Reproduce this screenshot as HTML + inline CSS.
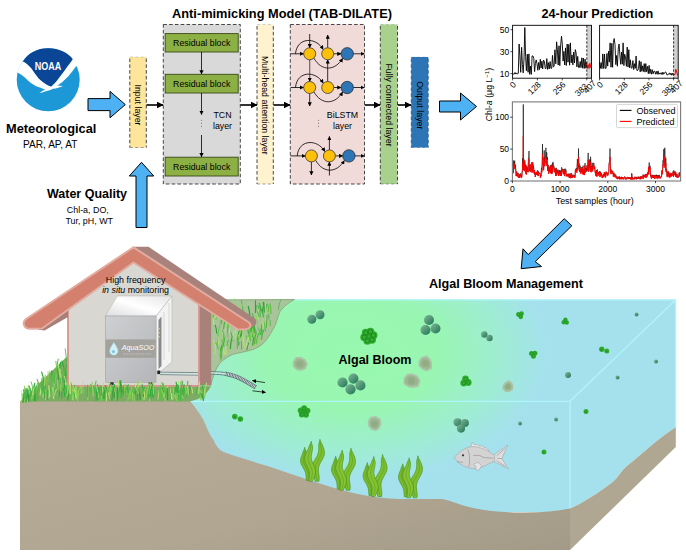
<!DOCTYPE html>
<html><head><meta charset="utf-8"><title>Graphical abstract</title>
<style>html,body{margin:0;padding:0;background:#fff}svg{display:block}text{font-family:'Liberation Sans', sans-serif}</style>
</head><body>
<svg width="686" height="560" viewBox="0 0 686 560" font-family="Liberation Sans, sans-serif">
<rect width="686" height="560" fill="#fff"/>

<defs>
<marker id="ah" viewBox="0 0 10 10" refX="9" refY="5" markerWidth="4.2" markerHeight="4.2" orient="auto-start-reverse" markerUnits="userSpaceOnUse"><path d="M0,0 L10,5 L0,10 z" fill="#000"/></marker>
<marker id="ahb" viewBox="0 0 10 10" refX="9" refY="5" markerWidth="7" markerHeight="7" orient="auto-start-reverse" markerUnits="userSpaceOnUse"><path d="M0,0 L10,5 L0,10 z" fill="#000"/></marker>
</defs>

<text x="282" y="17.5" font-size="12.8" font-weight="bold" text-anchor="middle" fill="#000" >Anti-mimicking Model (TAB-DILATE)</text>
<text x="597.3" y="17.5" font-size="12.65" font-weight="bold" text-anchor="middle" fill="#000" >24-hour Prediction</text>
<g id="noaa">
<circle cx="48.2" cy="79.8" r="31.5" fill="#1b98d5"/>
<path d="M22.9,61.4 C28,53 37,48.3 48.2,48.3 C59,48.3 68,52.5 72.9,59.3 C71,62 69,64.5 67.1,67.1 C64,71.5 61.5,75 58.6,78.6 C56,82 54,84.5 51.4,86.4 C50,86.6 49.5,86.2 48.6,85.7 C45,84 41.5,81.5 38.6,78.6 C36,75.5 33.5,72 31.4,68.6 C29,65.5 26,63 22.9,61.4 Z" fill="#0b4596"/>
<path d="M22.9,61.4 C26,63 29,65.5 31.4,68.6 C33.5,72 36,75.5 38.6,78.6 C41.5,81.5 45,84 48.6,85.7 C49.5,86.2 50.4,86.5 51.4,86.4 C54,84.5 56,82 58.6,78.6 C61.5,75 64,71.5 67.1,67.1 C69,64.5 71,62 72.9,59.3 C74.5,61 75.6,63.2 76.6,65.6 C74.5,68.5 72.3,71.5 70,74.3 C67.8,77 65.5,79.5 62.9,81.4 C61,83 59,84.5 57.1,85.4 C59,85.6 61,85.8 62.9,86 C60,87.5 56.5,88.4 53,88.8 C50,90.3 47.5,91 45,91.5 C43,92.2 41.2,92.8 39.3,93.1 C41,91.8 43,90.6 45.2,89.6 C43.8,89.2 42.6,88.6 41.4,87.9 C38.3,87.2 35.5,86 32.9,84.3 C29.8,82.3 27,80 24.3,77.1 C22,75.3 20,73.8 17.6,72.6 C18.2,68.5 20,64.5 22.9,61.4 Z" fill="#fff"/>
<text x="47.9" y="70" font-size="10.4" font-weight="bold" text-anchor="middle" fill="#fff" textLength="26.5" lengthAdjust="spacingAndGlyphs">NOAA</text>
</g>
<text x="51.2" y="132.8" font-size="12.8" font-weight="bold" text-anchor="middle" fill="#000" >Meteorological</text>
<text x="50.3" y="147.9" font-size="10.1" font-weight="normal" text-anchor="middle" fill="#000" >PAR, AP, AT</text>
<text x="87" y="198" font-size="12.5" font-weight="bold" text-anchor="middle" fill="#000" >Water Quality</text>
<text x="87.8" y="212.5" font-size="8.9" font-weight="normal" text-anchor="middle" fill="#000" >Chl-a, DO,</text>
<text x="89.2" y="223.5" font-size="8.9" font-weight="normal" text-anchor="middle" fill="#000" >Tur, pH, WT</text>
<path d="M88,98.6 L110,98.6 L110,91.39999999999999 L125.3,104.6 L110,117.8 L110,110.6 L88,110.6 Z" fill="#4db1f4" stroke="#000" stroke-width="1" stroke-linejoin="miter"/>
<path d="M439.5,101.0 L460.5,101.0 L460.5,93.0 L476.5,106.5 L460.5,120.0 L460.5,112.0 L439.5,112.0 Z" fill="#4db1f4" stroke="#000" stroke-width="1" stroke-linejoin="miter"/>
<path d="M136,227.5 L136,176 L129.3,176 L141.5,162.3 L153.7,176 L147,176 L147,227.5 Z" fill="#4db1f4" stroke="#000" stroke-width="1"/>
<path d="M564.2,218.7 L571.9,225.7 L535.2,261.6 L541.5,266.5 L521.2,268.7 L523,248.8 L528.2,254.6 Z" fill="#4db1f4" stroke="#000" stroke-width="1"/>
<rect x="129.8" y="57" width="16.5" height="90.5" fill="#fde59c"/>
<path d="M129.8,58.5 L129.8,147.5 M146.3,58.5 L146.3,147.5" fill="none" stroke="#333" stroke-width="0.9" stroke-dasharray="3.6,2.2"/>
<path d="M129.8,147.5 L146.3,147.5" fill="none" stroke="#333" stroke-opacity="0.55" stroke-width="0.8" stroke-dasharray="3.2,2.2"/>
<path d="M129.8,57 L146.3,57" fill="none" stroke="#333" stroke-opacity="0.25" stroke-width="0.8" stroke-dasharray="3.2,2.2"/>
<text transform="translate(135,105) rotate(90)" font-size="8.8" text-anchor="middle" fill="#000">Input layer</text>
<rect x="163.3" y="24.5" width="77.0" height="159.5" fill="#d9d9d9" stroke="#333" stroke-width="0.9" stroke-dasharray="3.6,2.2"/>
<rect x="257" y="24.5" width="16.30000000000001" height="159.5" fill="#fef2cf"/>
<path d="M257,26.0 L257,184 M273.3,26.0 L273.3,184" fill="none" stroke="#333" stroke-width="0.9" stroke-dasharray="3.6,2.2"/>
<path d="M257,184 L273.3,184" fill="none" stroke="#333" stroke-opacity="0.55" stroke-width="0.8" stroke-dasharray="3.2,2.2"/>
<path d="M257,24.5 L273.3,24.5" fill="none" stroke="#333" stroke-opacity="0.25" stroke-width="0.8" stroke-dasharray="3.2,2.2"/>
<text transform="translate(262,105.3) rotate(90)" font-size="8.8" text-anchor="middle" fill="#000">Multi-head attention layer</text>
<rect x="290.3" y="24.5" width="74.19999999999999" height="159.5" fill="#f1dbd9" stroke="#333" stroke-width="0.9" stroke-dasharray="3.6,2.2"/>
<rect x="380.3" y="24.5" width="17.19999999999999" height="159.5" fill="#a9d18e"/>
<path d="M380.3,26.0 L380.3,184 M397.5,26.0 L397.5,184" fill="none" stroke="#333" stroke-width="0.9" stroke-dasharray="3.6,2.2"/>
<path d="M380.3,184 L397.5,184" fill="none" stroke="#333" stroke-opacity="0.55" stroke-width="0.8" stroke-dasharray="3.2,2.2"/>
<path d="M380.3,24.5 L397.5,24.5" fill="none" stroke="#333" stroke-opacity="0.25" stroke-width="0.8" stroke-dasharray="3.2,2.2"/>
<text transform="translate(385.5,105) rotate(90)" font-size="8.8" text-anchor="middle" fill="#000">Fully connected layer</text>
<rect x="411.3" y="57" width="16.899999999999977" height="90.5" fill="#2e75b6"/>
<path d="M411.3,58.5 L411.3,147.5 M428.2,58.5 L428.2,147.5" fill="none" stroke="#1f5a94" stroke-width="0.9" stroke-dasharray="3.6,2.2"/>
<path d="M411.3,147.5 L428.2,147.5" fill="none" stroke="#1f5a94" stroke-opacity="0.55" stroke-width="0.8" stroke-dasharray="3.2,2.2"/>
<path d="M411.3,57 L428.2,57" fill="none" stroke="#1f5a94" stroke-opacity="0.25" stroke-width="0.8" stroke-dasharray="3.2,2.2"/>
<text transform="translate(416.5,105.3) rotate(90)" font-size="8.9" text-anchor="middle" fill="#000">Output layer</text>
<rect x="165.2" y="33.6" width="73" height="18.4" fill="#8db044" stroke="#3a4a1a" stroke-width="0.9"/>
<text x="201.7" y="46.0" font-size="8.8" font-weight="normal" text-anchor="middle" fill="#000" >Residual block</text>
<rect x="165.2" y="74.3" width="73" height="18.700000000000003" fill="#8db044" stroke="#3a4a1a" stroke-width="0.9"/>
<text x="201.7" y="86.85000000000001" font-size="8.8" font-weight="normal" text-anchor="middle" fill="#000" >Residual block</text>
<rect x="165.2" y="157.2" width="73" height="18.80000000000001" fill="#8db044" stroke="#3a4a1a" stroke-width="0.9"/>
<text x="201.7" y="169.79999999999998" font-size="8.8" font-weight="normal" text-anchor="middle" fill="#000" >Residual block</text>
<line x1="201.5" y1="52" x2="201.5" y2="74" stroke="#000" stroke-width="0.8" marker-end="url(#ah)"/>
<line x1="201.5" y1="93" x2="201.5" y2="114.5" stroke="#000" stroke-width="0.8" marker-end="url(#ah)"/>
<line x1="201.5" y1="135" x2="201.5" y2="156.8" stroke="#000" stroke-width="0.8" marker-end="url(#ah)"/>
<text x="222.5" y="118" font-size="8.8" font-weight="normal" text-anchor="middle" fill="#000" >TCN</text>
<text x="222.5" y="128.5" font-size="8.8" font-weight="normal" text-anchor="middle" fill="#000" >layer</text>
<g fill="#555"><circle cx="201.5" cy="120.3" r="0.5"/><circle cx="201.5" cy="123.3" r="0.5"/><circle cx="201.5" cy="126.3" r="0.5"/></g>
<line x1="146.5" y1="105" x2="163" y2="105" stroke="#000" stroke-width="1.6" marker-end="url(#ahb)"/>
<line x1="240.5" y1="105" x2="257" y2="105" stroke="#000" stroke-width="1.6" marker-end="url(#ahb)"/>
<line x1="273.5" y1="105" x2="290" y2="105" stroke="#000" stroke-width="1.6" marker-end="url(#ahb)"/>
<line x1="364.7" y1="105" x2="380" y2="105" stroke="#000" stroke-width="1.6" marker-end="url(#ahb)"/>
<line x1="397.7" y1="105" x2="411" y2="105" stroke="#000" stroke-width="1.6" marker-end="url(#ahb)"/>
<text x="342.5" y="118" font-size="8.8" font-weight="normal" text-anchor="middle" fill="#000" >BiLSTM</text>
<text x="342.5" y="128.5" font-size="8.8" font-weight="normal" text-anchor="middle" fill="#000" >layer</text>
<g fill="#555"><circle cx="318.5" cy="120.3" r="0.5"/><circle cx="318.5" cy="123.3" r="0.5"/><circle cx="318.5" cy="126.3" r="0.5"/></g>
<line x1="309.7" y1="34" x2="309.7" y2="47.8" stroke="#000" stroke-width="0.8" marker-end="url(#ah)"/>
<line x1="327.7" y1="47.8" x2="327.7" y2="35" stroke="#000" stroke-width="0.8" marker-end="url(#ah)"/>
<line x1="309.7" y1="59.8" x2="309.7" y2="81.5" stroke="#666" stroke-width="1.2" marker-end="url(#ah)"/>
<line x1="327.7" y1="81.5" x2="327.7" y2="59.8" stroke="#000" stroke-width="0.8" marker-end="url(#ah)"/>
<line x1="309.7" y1="93.5" x2="309.7" y2="106" stroke="#000" stroke-width="0.8" marker-end="url(#ah)"/>
<line x1="329.4" y1="149.9" x2="329.4" y2="136.5" stroke="#000" stroke-width="0.8" marker-end="url(#ah)"/>
<line x1="311.4" y1="161.9" x2="311.4" y2="175" stroke="#000" stroke-width="0.8" marker-end="url(#ah)"/>
<line x1="329.4" y1="175.5" x2="329.4" y2="161.9" stroke="#000" stroke-width="0.8" marker-end="url(#ah)"/>
<line x1="290.5" y1="53.8" x2="303.7" y2="53.8" stroke="#000" stroke-width="0.8" marker-end="url(#ah)"/>
<line x1="333.7" y1="53.8" x2="341.0" y2="53.8" stroke="#000" stroke-width="0.8" marker-end="url(#ah)"/>
<line x1="353.2" y1="53.8" x2="364.3" y2="53.8" stroke="#000" stroke-width="0.8" marker-end="url(#ah)"/>
<path d="M295.5,53.8 C297,36.8 316,36.8 323.09999999999997,49.4" fill="none" stroke="#000" stroke-width="0.8" marker-end="url(#ah)"/>
<path d="M313.9,58.199999999999996 C321.7,71.8 335.2,70.8 342.59999999999997,58.4" fill="none" stroke="#000" stroke-width="0.8" marker-end="url(#ah)"/>
<circle cx="309.7" cy="53.8" r="6" fill="#fcbf0a" stroke="#222" stroke-width="0.7"/>
<circle cx="327.7" cy="53.8" r="6" fill="#fcbf0a" stroke="#222" stroke-width="0.7"/>
<circle cx="347.2" cy="53.8" r="6.2" fill="#2e75b6" stroke="#222" stroke-width="0.7"/>
<line x1="290.5" y1="87.5" x2="303.7" y2="87.5" stroke="#000" stroke-width="0.8" marker-end="url(#ah)"/>
<line x1="333.7" y1="87.5" x2="341.0" y2="87.5" stroke="#000" stroke-width="0.8" marker-end="url(#ah)"/>
<line x1="353.2" y1="87.5" x2="364.3" y2="87.5" stroke="#000" stroke-width="0.8" marker-end="url(#ah)"/>
<path d="M295.5,87.5 C297,70.5 316,70.5 323.09999999999997,83.1" fill="none" stroke="#000" stroke-width="0.8" marker-end="url(#ah)"/>
<path d="M313.9,91.9 C321.7,105.5 335.2,104.5 342.59999999999997,92.1" fill="none" stroke="#000" stroke-width="0.8" marker-end="url(#ah)"/>
<circle cx="309.7" cy="87.5" r="6" fill="#fcbf0a" stroke="#222" stroke-width="0.7"/>
<circle cx="327.7" cy="87.5" r="6" fill="#fcbf0a" stroke="#222" stroke-width="0.7"/>
<circle cx="347.2" cy="87.5" r="6.2" fill="#2e75b6" stroke="#222" stroke-width="0.7"/>
<line x1="290.5" y1="155.9" x2="305.4" y2="155.9" stroke="#000" stroke-width="0.8" marker-end="url(#ah)"/>
<line x1="335.4" y1="155.9" x2="342.7" y2="155.9" stroke="#000" stroke-width="0.8" marker-end="url(#ah)"/>
<line x1="354.9" y1="155.9" x2="364.3" y2="155.9" stroke="#000" stroke-width="0.8" marker-end="url(#ah)"/>
<path d="M297.2,155.9 C298.7,138.9 317.7,138.9 324.79999999999995,151.5" fill="none" stroke="#000" stroke-width="0.8" marker-end="url(#ah)"/>
<path d="M315.59999999999997,160.3 C323.4,173.9 336.9,172.9 344.29999999999995,160.5" fill="none" stroke="#000" stroke-width="0.8" marker-end="url(#ah)"/>
<circle cx="311.4" cy="155.9" r="6" fill="#fcbf0a" stroke="#222" stroke-width="0.7"/>
<circle cx="329.4" cy="155.9" r="6" fill="#fcbf0a" stroke="#222" stroke-width="0.7"/>
<circle cx="348.9" cy="155.9" r="6.2" fill="#2e75b6" stroke="#222" stroke-width="0.7"/>
<rect x="586.8" y="25.3" width="4.7" height="52.900000000000006" fill="#d0d0d0"/>
<polyline points="512.6,73.3 513.4,74.0 514.2,74.1 515.0,72.5 515.9,74.1 516.7,72.9 517.5,74.0 518.3,73.4 519.1,44.0 519.9,55.9 520.7,72.3 521.6,47.3 522.4,64.4 523.2,72.9 524.0,59.0 524.8,27.5 525.6,56.4 526.4,70.7 527.3,54.2 528.1,72.3 528.9,53.9 529.7,74.3 530.5,66.0 531.3,74.4 532.1,55.9 533.0,56.0 533.8,58.5 534.6,71.6 535.4,63.3 536.2,59.9 537.0,63.8 537.8,70.3 538.7,62.4 539.5,69.6 540.3,59.3 541.1,68.0 541.9,61.2 542.7,68.9 543.5,60.1 544.4,61.3 545.2,68.4 546.0,68.6 546.8,58.6 547.6,69.4 548.4,62.6 549.2,69.0 550.1,61.5 550.9,68.3 551.7,68.3 552.5,55.4 553.3,66.9 554.1,66.4 554.9,49.8 555.8,63.8 556.6,41.8 557.4,49.9 558.2,65.0 559.0,45.8 559.8,65.7 560.6,46.0 561.5,36.3 562.3,44.1 563.1,61.1 563.9,51.4 564.7,65.0 565.5,47.9 566.3,65.5 567.2,44.0 568.0,62.2 568.8,44.4 569.6,65.2 570.4,42.9 571.2,62.8 572.0,54.9 572.9,64.9 573.7,52.0 574.5,63.0 575.3,49.6 576.1,52.7 576.9,66.9 577.7,56.4 578.6,67.5 579.4,67.4 580.2,61.5 581.0,67.6 581.8,57.8 582.6,68.2 583.4,58.1 584.2,68.5 585.1,59.1 585.9,68.3 586.7,62.5" fill="none" stroke="#000" stroke-width="0.9" stroke-linejoin="round" />
<polyline points="586.7,62.5 587.5,68.4 588.3,64.6 589.1,68.5 589.9,63.2 590.8,67.9" fill="none" stroke="#e00" stroke-width="0.95" stroke-linejoin="round" />
<line x1="586.8" y1="25.3" x2="586.8" y2="78.2" stroke="#000" stroke-width="0.8" stroke-dasharray="2.4,1.6"/>
<rect x="512.6" y="25.3" width="78.89999999999998" height="52.900000000000006" fill="none" stroke="#000" stroke-width="0.9"/>
<line x1="512.6" y1="78.2" x2="512.6" y2="80.4" stroke="#000" stroke-width="0.7"/>
<text transform="translate(516.6,85.10000000000001) rotate(-45)" font-size="8.5" text-anchor="end">0</text>
<line x1="537.4" y1="78.2" x2="537.4" y2="80.4" stroke="#000" stroke-width="0.7"/>
<text transform="translate(541.4,85.10000000000001) rotate(-45)" font-size="8.5" text-anchor="end">128</text>
<line x1="562.2" y1="78.2" x2="562.2" y2="80.4" stroke="#000" stroke-width="0.7"/>
<text transform="translate(566.2,85.10000000000001) rotate(-45)" font-size="8.5" text-anchor="end">256</text>
<line x1="586.8" y1="78.2" x2="586.8" y2="80.4" stroke="#000" stroke-width="0.7"/>
<text transform="translate(588.4,86.8) rotate(-45)" font-size="8.5" text-anchor="end">383</text>
<line x1="591.5" y1="78.2" x2="591.5" y2="80.4" stroke="#000" stroke-width="0.7"/>
<text transform="translate(596.7,83.9) rotate(-45)" font-size="8.5" text-anchor="end">407</text>
<line x1="510.40000000000003" y1="73.6" x2="512.6" y2="73.6" stroke="#000" stroke-width="0.7"/>
<text x="509.3" y="76.7" font-size="8.5" text-anchor="end">10</text>
<line x1="510.40000000000003" y1="51.7" x2="512.6" y2="51.7" stroke="#000" stroke-width="0.7"/>
<text x="509.3" y="54.8" font-size="8.5" text-anchor="end">30</text>
<line x1="510.40000000000003" y1="29.7" x2="512.6" y2="29.7" stroke="#000" stroke-width="0.7"/>
<text x="509.3" y="32.8" font-size="8.5" text-anchor="end">50</text>
<rect x="673.6" y="25.3" width="4.6" height="52.900000000000006" fill="#d0d0d0"/>
<polyline points="599.6,62.1 600.4,68.4 601.2,62.6 602.0,68.6 602.8,53.9 603.7,68.5 604.5,54.0 605.3,68.4 606.1,68.3 606.9,53.5 607.7,66.1 608.5,51.2 609.3,62.1 610.1,42.9 611.0,67.2 611.8,43.4 612.6,67.3 613.4,42.2 614.2,38.5 615.0,44.5 615.8,64.6 616.6,55.5 617.4,66.2 618.3,48.0 619.1,44.0 619.9,55.3 620.7,64.3 621.5,52.2 622.3,64.2 623.1,42.9 623.9,65.6 624.7,54.2 625.6,57.9 626.4,66.3 627.2,47.1 628.0,67.1 628.8,49.7 629.6,67.8 630.4,59.8 631.2,67.9 632.0,68.3 632.9,60.6 633.7,69.6 634.5,63.7 635.3,68.3 636.1,56.0 636.9,70.5 637.7,70.5 638.5,68.4 639.3,60.7 640.2,71.9 641.0,61.7 641.8,71.3 642.6,65.8 643.4,71.5 644.2,63.6 645.0,72.2 645.8,63.6 646.6,71.7 647.5,66.4 648.3,73.7 649.1,65.4 649.9,73.6 650.7,69.2 651.5,74.2 652.3,69.7 653.1,73.8 653.9,71.2 654.8,71.3 655.6,74.2 656.4,71.4 657.2,74.3 658.0,70.9 658.8,74.3 659.6,72.9 660.4,74.1 661.2,72.7 662.1,74.7 662.9,72.1 663.7,74.1 664.5,73.5 665.3,71.9 666.1,72.4 666.9,74.9 667.7,75.0 668.5,73.8 669.4,73.0 670.2,74.7 671.0,73.1 671.8,75.2 672.6,73.3 673.4,75.1" fill="none" stroke="#000" stroke-width="0.9" stroke-linejoin="round" />
<polyline points="673.4,75.1 674.2,74.7 675.0,74.6 675.8,69.2 676.7,72.2 677.5,75.4" fill="none" stroke="#e00" stroke-width="0.95" stroke-linejoin="round" />
<line x1="673.6" y1="25.3" x2="673.6" y2="78.2" stroke="#000" stroke-width="0.8" stroke-dasharray="2.4,1.6"/>
<rect x="599.6" y="25.3" width="78.60000000000002" height="52.900000000000006" fill="none" stroke="#000" stroke-width="0.9"/>
<line x1="599.6" y1="78.2" x2="599.6" y2="80.4" stroke="#000" stroke-width="0.7"/>
<text transform="translate(603.6,85.10000000000001) rotate(-45)" font-size="8.5" text-anchor="end">0</text>
<line x1="624.3" y1="78.2" x2="624.3" y2="80.4" stroke="#000" stroke-width="0.7"/>
<text transform="translate(628.3,85.10000000000001) rotate(-45)" font-size="8.5" text-anchor="end">128</text>
<line x1="649.0" y1="78.2" x2="649.0" y2="80.4" stroke="#000" stroke-width="0.7"/>
<text transform="translate(653.0,85.10000000000001) rotate(-45)" font-size="8.5" text-anchor="end">256</text>
<line x1="673.6" y1="78.2" x2="673.6" y2="80.4" stroke="#000" stroke-width="0.7"/>
<text transform="translate(675.2,86.8) rotate(-45)" font-size="8.5" text-anchor="end">383</text>
<line x1="678.2" y1="78.2" x2="678.2" y2="80.4" stroke="#000" stroke-width="0.7"/>
<text transform="translate(683.4,83.9) rotate(-45)" font-size="8.5" text-anchor="end">407</text>
<polyline points="512.4,165.4 512.7,163.0 513.0,163.6 513.3,172.6 513.5,160.5 513.8,160.9 514.1,166.5 514.4,165.3 514.7,160.6 515.0,169.4 515.3,164.8 515.5,166.1 515.8,169.5 516.1,176.0 516.4,175.3 516.7,171.8 517.0,175.9 517.3,174.6 517.6,176.5 517.8,173.9 518.1,172.9 518.4,175.8 518.7,177.0 519.0,176.3 519.3,177.9 519.6,176.2 519.8,173.9 520.1,176.4 520.4,174.6 520.7,173.4 521.0,174.6 521.3,178.1 521.6,175.7 521.8,176.1 522.1,172.8 522.4,170.6 522.7,158.0 523.0,166.6 523.3,104.4 523.6,169.9 523.8,159.1 524.1,170.8 524.4,169.9 524.7,161.4 525.0,166.4 525.3,164.4 525.6,168.6 525.9,172.5 526.1,166.4 526.4,173.1 526.7,166.3 527.0,170.6 527.3,167.3 527.6,167.8 527.9,172.0 528.1,171.6 528.4,158.4 528.7,158.6 529.0,151.0 529.3,170.3 529.6,170.9 529.9,170.4 530.1,164.7 530.4,167.4 530.7,171.5 531.0,170.7 531.3,170.5 531.6,169.9 531.9,162.1 532.1,166.7 532.4,171.4 532.7,163.0 533.0,169.2 533.3,165.3 533.6,167.6 533.9,171.6 534.2,173.1 534.4,170.0 534.7,174.5 535.0,172.4 535.3,176.8 535.6,175.2 535.9,173.8 536.2,172.6 536.4,174.7 536.7,172.2 537.0,174.8 537.3,171.5 537.6,170.9 537.9,173.9 538.2,176.1 538.4,171.4 538.7,173.0 539.0,172.8 539.3,172.6 539.6,173.3 539.9,173.6 540.2,173.6 540.4,177.3 540.7,174.9 541.0,176.2 541.3,169.8 541.6,167.6 541.9,170.6 542.2,163.4 542.5,144.0 542.7,160.1 543.0,157.4 543.3,164.7 543.6,169.3 543.9,164.0 544.2,150.4 544.5,162.3 544.7,157.9 545.0,159.2 545.3,158.7 545.6,154.3 545.9,147.8 546.2,162.8 546.5,158.7 546.7,152.2 547.0,160.1 547.3,157.1 547.6,170.5 547.9,164.6 548.2,165.9 548.5,170.2 548.7,172.9 549.0,167.6 549.3,167.9 549.6,170.5 549.9,166.5 550.2,171.3 550.5,165.2 550.8,171.8 551.0,173.2 551.3,169.3 551.6,165.1 551.9,173.6 552.2,170.2 552.5,163.4 552.8,170.2 553.0,161.9 553.3,166.9 553.6,166.9 553.9,166.2 554.2,166.5 554.5,169.3 554.8,172.0 555.0,170.7 555.3,168.5 555.6,175.1 555.9,171.5 556.2,167.8 556.5,175.6 556.8,172.2 557.0,170.0 557.3,172.0 557.6,172.9 557.9,169.4 558.2,173.9 558.5,175.8 558.8,171.2 559.1,174.4 559.3,170.0 559.6,173.2 559.9,173.3 560.2,175.7 560.5,170.8 560.8,174.8 561.1,170.3 561.3,176.0 561.6,168.2 561.9,170.2 562.2,168.7 562.5,170.1 562.8,169.2 563.1,172.8 563.3,173.9 563.6,171.2 563.9,169.0 564.2,174.2 564.5,174.8 564.8,170.6 565.1,168.5 565.3,172.6 565.6,171.7 565.9,169.6 566.2,176.3 566.5,175.9 566.8,173.9 567.1,174.0 567.4,176.0 567.6,176.1 567.9,174.7 568.2,176.3 568.5,173.7 568.8,173.9 569.1,177.3 569.4,177.3 569.6,174.8 569.9,173.4 570.2,176.3 570.5,177.8 570.8,177.7 571.1,173.5 571.4,177.0 571.6,173.6 571.9,174.4 572.2,175.4 572.5,177.2 572.8,175.6 573.1,176.7 573.4,174.8 573.6,175.0 573.9,175.0 574.2,176.1 574.5,175.1 574.8,177.2 575.1,175.8 575.4,169.8 575.7,169.3 575.9,170.7 576.2,168.0 576.5,168.5 576.8,171.3 577.1,167.5 577.4,159.1 577.7,167.4 577.9,168.9 578.2,168.2 578.5,148.5 578.8,167.2 579.1,163.5 579.4,167.0 579.7,172.0 579.9,170.3 580.2,165.7 580.5,171.9 580.8,171.7 581.1,170.0 581.4,170.5 581.7,169.6 581.9,167.0 582.2,173.1 582.5,168.1 582.8,168.6 583.1,165.6 583.4,174.6 583.7,171.4 583.9,170.3 584.2,170.0 584.5,173.7 584.8,164.5 585.1,163.1 585.4,170.6 585.7,168.2 586.0,169.5 586.2,168.2 586.5,171.6 586.8,169.1 587.1,165.1 587.4,169.8 587.7,169.6 588.0,156.8 588.2,152.9 588.5,171.2 588.8,164.1 589.1,165.9 589.4,160.7 589.7,167.2 590.0,159.6 590.2,170.3 590.5,156.8 590.8,160.2 591.1,170.3 591.4,168.8 591.7,166.3 592.0,169.0 592.2,162.8 592.5,169.8 592.8,167.9 593.1,167.7 593.4,164.0 593.7,162.8 594.0,165.1 594.3,169.2 594.5,167.4 594.8,167.2 595.1,172.3 595.4,171.6 595.7,174.9 596.0,173.5 596.3,173.7 596.5,170.1 596.8,176.0 597.1,175.3 597.4,170.0 597.7,172.0 598.0,173.5 598.3,174.4 598.5,172.7 598.8,172.0 599.1,173.5 599.4,172.5 599.7,171.2 600.0,176.5 600.3,171.8 600.5,174.9 600.8,173.1 601.1,174.6 601.4,174.4 601.7,173.5 602.0,177.6 602.3,177.8 602.6,175.7 602.8,176.3 603.1,176.9 603.4,175.3 603.7,174.2 604.0,176.0 604.3,172.5 604.6,172.9 604.8,175.2 605.1,172.5 605.4,177.1 605.7,176.6 606.0,171.4 606.3,171.8 606.6,172.3 606.8,172.5 607.1,174.0 607.4,172.9 607.7,175.1 608.0,174.0 608.3,173.8 608.6,172.4 608.8,172.0 609.1,164.3 609.4,162.1 609.7,161.2 610.0,148.5 610.3,162.8 610.6,169.7 610.9,173.3 611.1,169.7 611.4,170.5 611.7,170.5 612.0,172.2 612.3,172.2 612.6,171.2 612.9,173.2 613.1,173.1 613.4,176.4 613.7,172.8 614.0,172.7 614.3,176.0 614.6,176.2 614.9,175.2 615.1,174.3 615.4,176.8 615.7,175.8 616.0,175.9 616.3,175.6 616.6,177.9 616.9,177.0 617.1,178.7 617.4,177.0 617.7,179.1 618.0,176.9 618.3,177.2 618.6,178.1 618.9,176.7 619.2,178.5 619.4,176.5 619.7,179.2 620.0,177.7 620.3,178.8 620.6,177.6 620.9,177.4 621.2,179.1 621.4,177.0 621.7,178.4 622.0,177.5 622.3,178.7 622.6,177.0 622.9,179.0 623.2,178.9 623.4,178.9 623.7,179.0 624.0,177.3 624.3,177.1 624.6,176.8 624.9,177.7 625.2,179.1 625.4,179.2 625.7,178.3 626.0,177.5 626.3,179.1 626.6,177.9 626.9,179.1 627.2,178.4 627.5,178.1 627.7,176.9 628.0,177.4 628.3,178.6 628.6,178.1 628.9,177.5 629.2,178.4 629.5,178.1 629.7,177.4 630.0,178.6 630.3,177.2 630.6,179.3 630.9,178.8 631.2,179.2 631.5,179.2 631.7,173.3 632.0,178.4 632.3,179.2 632.6,177.3 632.9,177.4 633.2,179.3 633.5,178.2 633.7,178.0 634.0,178.8 634.3,178.2 634.6,179.1 634.9,176.8 635.2,178.0 635.5,178.3 635.8,178.2 636.0,176.9 636.3,177.6 636.6,179.3 636.9,178.2 637.2,177.0 637.5,178.3 637.8,177.2 638.0,178.9 638.3,178.1 638.6,176.5 638.9,178.1 639.2,178.0 639.5,177.4 639.8,178.8 640.0,179.1 640.3,176.7 640.6,178.7 640.9,176.9 641.2,177.5 641.5,178.4 641.8,176.1 642.0,178.3 642.3,177.9 642.6,177.4 642.9,178.1 643.2,174.7 643.5,178.1 643.8,175.6 644.1,176.6 644.3,175.5 644.6,176.9 644.9,176.7 645.2,174.1 645.5,175.2 645.8,177.6 646.1,175.2 646.3,174.0 646.6,177.0 646.9,177.0 647.2,175.0 647.5,175.2 647.8,172.7 648.1,174.4 648.3,171.9 648.6,168.1 648.9,172.2 649.2,162.5 649.5,167.9 649.8,168.0 650.1,165.8 650.3,171.2 650.6,175.8 650.9,174.9 651.2,177.7 651.5,178.3 651.8,177.2 652.1,174.7 652.4,177.4 652.6,175.6 652.9,175.2 653.2,177.0 653.5,177.6 653.8,175.0 654.1,174.9 654.4,178.0 654.6,175.6 654.9,178.5 655.2,175.2 655.5,175.0 655.8,176.2 656.1,175.6 656.4,176.1 656.6,174.7 656.9,178.3 657.2,178.2 657.5,176.7 657.8,175.0 658.1,178.3 658.4,175.2 658.6,175.5 658.9,177.3 659.2,175.5 659.5,174.9 659.8,177.9 660.1,177.5 660.4,177.7 660.7,177.1 660.9,176.8 661.2,175.9 661.5,176.8 661.8,171.7 662.1,170.6 662.4,173.2 662.7,167.8 662.9,160.6 663.2,161.8 663.5,157.7 663.8,149.1 664.1,166.2 664.4,155.8 664.7,147.8 664.9,147.8 665.2,158.4 665.5,169.4 665.8,158.1 666.1,172.1 666.4,169.8 666.7,168.9 666.9,174.0 667.2,176.3 667.5,172.3 667.8,171.6 668.1,175.3 668.4,171.6 668.7,172.2 669.0,176.9 669.2,176.4 669.5,174.7 669.8,177.3 670.1,173.3 670.4,175.8 670.7,174.6 671.0,175.6 671.2,173.1 671.5,175.6 671.8,174.7 672.1,175.2 672.4,174.5 672.7,175.0 673.0,171.4 673.2,171.8 673.5,176.0 673.8,170.3 674.1,173.5 674.4,172.3 674.7,174.4 675.0,174.8 675.2,171.5 675.5,176.0 675.8,172.6 676.1,176.5 676.4,176.5 676.7,176.9 677.0,174.2 677.3,176.9 677.5,177.3 677.8,176.5 678.1,177.5 678.4,177.1 678.7,175.9 679.0,174.2 679.3,172.8 679.5,176.0 679.8,172.7 680.1,175.2 680.4,171.9" fill="none" stroke="#000" stroke-width="0.6" stroke-linejoin="round" />
<polyline points="512.4,165.4 512.7,161.9 513.0,162.6 513.3,173.3 513.5,164.5 513.8,164.6 514.1,168.6 514.4,166.0 514.7,163.7 515.0,168.8 515.3,167.6 515.5,168.8 515.8,171.6 516.1,175.8 516.4,176.2 516.7,171.5 517.0,175.5 517.3,174.7 517.6,176.2 517.8,173.4 518.1,173.9 518.4,176.7 518.7,177.8 519.0,176.4 519.3,177.9 519.6,176.8 519.8,174.4 520.1,176.8 520.4,175.9 520.7,175.0 521.0,174.4 521.3,178.0 521.6,175.9 521.8,177.1 522.1,172.2 522.4,170.5 522.7,162.9 523.0,168.2 523.3,136.1 523.6,169.9 523.8,163.6 524.1,170.2 524.4,171.2 524.7,160.3 525.0,165.5 525.3,166.5 525.6,170.7 525.9,174.0 526.1,165.2 526.4,174.7 526.7,167.2 527.0,172.1 527.3,167.0 527.6,169.0 527.9,171.5 528.1,172.3 528.4,163.1 528.7,163.3 529.0,158.6 529.3,171.3 529.6,170.6 529.9,171.3 530.1,164.1 530.4,168.5 530.7,171.5 531.0,172.0 531.3,172.4 531.6,169.1 531.9,162.7 532.1,168.4 532.4,172.7 532.7,162.2 533.0,169.0 533.3,165.5 533.6,167.5 533.9,171.7 534.2,173.7 534.4,170.1 534.7,174.1 535.0,172.8 535.3,177.0 535.6,175.3 535.9,173.6 536.2,172.5 536.4,174.8 536.7,171.9 537.0,174.6 537.3,171.6 537.6,170.2 537.9,174.3 538.2,176.0 538.4,172.1 538.7,173.0 539.0,174.2 539.3,173.0 539.6,174.1 539.9,173.6 540.2,173.7 540.4,177.9 540.7,175.1 541.0,176.3 541.3,172.1 541.6,169.7 541.9,172.5 542.2,166.3 542.5,154.2 542.7,164.2 543.0,162.5 543.3,163.8 543.6,170.4 543.9,165.7 544.2,158.2 544.5,166.2 544.7,162.8 545.0,163.7 545.3,163.3 545.6,160.6 545.9,156.6 546.2,166.1 546.5,163.4 546.7,159.3 547.0,164.2 547.3,162.3 547.6,171.0 547.9,167.5 548.2,165.2 548.5,171.2 548.7,174.0 549.0,169.0 549.3,167.2 549.6,172.0 549.9,167.6 550.2,172.5 550.5,166.4 550.8,172.5 551.0,173.4 551.3,170.9 551.6,164.6 551.9,174.1 552.2,169.5 552.5,166.0 552.8,172.1 553.0,164.4 553.3,168.0 553.6,167.4 553.9,168.9 554.2,168.4 554.5,170.7 554.8,172.6 555.0,171.9 555.3,169.1 555.6,176.0 555.9,171.0 556.2,168.6 556.5,175.5 556.8,172.6 557.0,170.3 557.3,171.5 557.6,173.8 557.9,171.2 558.2,173.7 558.5,175.6 558.8,172.1 559.1,174.3 559.3,171.9 559.6,173.7 559.9,174.2 560.2,175.9 560.5,172.8 560.8,174.6 561.1,170.6 561.3,176.0 561.6,167.2 561.9,172.4 562.2,170.6 562.5,169.4 562.8,171.3 563.1,172.3 563.3,174.2 563.6,172.9 563.9,171.5 564.2,174.9 564.5,176.1 564.8,170.6 565.1,170.8 565.3,173.7 565.6,172.4 565.9,170.8 566.2,176.4 566.5,176.1 566.8,173.6 567.1,174.3 567.4,176.3 567.6,176.1 567.9,175.8 568.2,176.8 568.5,174.9 568.8,174.0 569.1,177.4 569.4,178.0 569.6,175.7 569.9,174.0 570.2,176.2 570.5,177.8 570.8,178.3 571.1,173.6 571.4,177.8 571.6,173.7 571.9,175.6 572.2,176.0 572.5,177.7 572.8,176.2 573.1,177.4 573.4,175.0 573.6,175.6 573.9,175.3 574.2,176.3 574.5,175.7 574.8,178.0 575.1,176.9 575.4,170.6 575.7,171.9 575.9,170.2 576.2,169.2 576.5,170.9 576.8,173.0 577.1,168.9 577.4,163.6 577.7,169.2 577.9,170.5 578.2,169.1 578.5,157.0 578.8,166.4 579.1,163.8 579.4,166.1 579.7,172.1 579.9,170.5 580.2,168.3 580.5,173.8 580.8,173.5 581.1,169.2 581.4,171.9 581.7,171.1 581.9,167.1 582.2,174.3 582.5,167.3 582.8,169.7 583.1,169.0 583.4,174.5 583.7,173.4 583.9,169.5 584.2,171.2 584.5,175.1 584.8,165.7 585.1,166.8 585.4,172.8 585.7,170.8 586.0,170.6 586.2,170.9 586.5,170.9 586.8,169.9 587.1,166.1 587.4,171.3 587.7,170.2 588.0,162.2 588.2,159.8 588.5,171.8 588.8,164.9 589.1,166.4 589.4,159.6 589.7,168.4 590.0,163.9 590.2,171.6 590.5,162.1 590.8,164.3 591.1,172.4 591.4,171.2 591.7,167.0 592.0,171.4 592.2,166.5 592.5,171.3 592.8,170.4 593.1,169.3 593.4,164.9 593.7,163.3 594.0,165.8 594.3,168.9 594.5,166.5 594.8,167.3 595.1,172.1 595.4,173.3 595.7,175.9 596.0,173.6 596.3,175.1 596.5,170.7 596.8,177.0 597.1,176.0 597.4,169.3 597.7,173.4 598.0,174.3 598.3,175.8 598.5,172.5 598.8,173.7 599.1,174.7 599.4,173.2 599.7,171.0 600.0,177.1 600.3,172.6 600.5,175.4 600.8,172.6 601.1,174.2 601.4,175.7 601.7,174.2 602.0,177.3 602.3,177.9 602.6,175.5 602.8,177.0 603.1,177.5 603.4,176.0 603.7,175.2 604.0,176.7 604.3,172.2 604.6,173.2 604.8,176.3 605.1,173.2 605.4,177.7 605.7,176.6 606.0,172.9 606.3,172.9 606.6,172.0 606.8,172.3 607.1,175.5 607.4,173.2 607.7,175.7 608.0,175.5 608.3,174.6 608.6,172.5 608.8,171.3 609.1,163.3 609.4,162.5 609.7,160.8 610.0,157.0 610.3,163.9 610.6,172.0 610.9,174.2 611.1,169.6 611.4,171.8 611.7,171.9 612.0,174.0 612.3,172.4 612.6,170.8 612.9,172.9 613.1,173.4 613.4,176.7 613.7,174.0 614.0,173.2 614.3,177.1 614.6,177.0 614.9,174.9 615.1,174.5 615.4,177.6 615.7,176.1 616.0,176.5 616.3,176.4 616.6,178.3 616.9,176.9 617.1,178.7 617.4,177.7 617.7,179.2 618.0,176.7 618.3,177.5 618.6,178.2 618.9,177.3 619.2,178.6 619.4,177.3 619.7,179.4 620.0,177.8 620.3,179.1 620.6,177.7 620.9,177.4 621.2,179.3 621.4,176.7 621.7,178.3 622.0,177.3 622.3,178.7 622.6,177.3 622.9,179.4 623.2,179.3 623.4,179.0 623.7,179.0 624.0,177.2 624.3,177.2 624.6,176.6 624.9,177.4 625.2,179.4 625.4,179.4 625.7,178.6 626.0,177.5 626.3,179.3 626.6,178.2 626.9,179.1 627.2,178.4 627.5,177.9 627.7,177.7 628.0,177.4 628.3,179.1 628.6,178.5 628.9,177.3 629.2,178.7 629.5,178.1 629.7,177.5 630.0,178.9 630.3,177.5 630.6,179.4 630.9,178.8 631.2,179.4 631.5,179.3 631.7,173.8 632.0,178.2 632.3,179.4 632.6,178.1 632.9,177.8 633.2,179.4 633.5,178.5 633.7,178.6 634.0,178.6 634.3,178.4 634.6,179.4 634.9,176.8 635.2,178.6 635.5,178.2 635.8,178.3 636.0,177.0 636.3,178.3 636.6,179.2 636.9,178.1 637.2,176.8 637.5,178.0 637.8,177.0 638.0,178.9 638.3,177.9 638.6,177.2 638.9,178.5 639.2,178.4 639.5,178.1 639.8,179.0 640.0,179.3 640.3,176.5 640.6,179.2 640.9,176.6 641.2,178.1 641.5,178.3 641.8,177.1 642.0,178.6 642.3,177.9 642.6,177.3 642.9,178.3 643.2,174.7 643.5,178.6 643.8,176.2 644.1,176.9 644.3,175.1 644.6,177.1 644.9,176.9 645.2,175.4 645.5,175.3 645.8,177.6 646.1,175.6 646.3,173.8 646.6,177.3 646.9,177.5 647.2,176.3 647.5,175.7 647.8,172.2 648.1,174.8 648.3,171.3 648.6,167.1 648.9,173.7 649.2,166.1 649.5,167.8 649.8,169.3 650.1,167.7 650.3,170.9 650.6,176.4 650.9,175.2 651.2,178.0 651.5,178.8 651.8,177.8 652.1,175.5 652.4,177.4 652.6,176.3 652.9,175.4 653.2,177.1 653.5,178.0 653.8,175.5 654.1,175.9 654.4,178.6 654.6,175.9 654.9,179.0 655.2,175.6 655.5,176.3 655.8,177.1 656.1,175.8 656.4,176.8 656.6,175.9 656.9,178.3 657.2,178.7 657.5,176.8 657.8,175.0 658.1,178.3 658.4,176.2 658.6,176.3 658.9,178.1 659.2,175.9 659.5,175.4 659.8,178.4 660.1,177.3 660.4,178.4 660.7,177.9 660.9,177.0 661.2,176.8 661.5,177.1 661.8,172.5 662.1,170.1 662.4,174.3 662.7,168.6 662.9,164.5 663.2,163.6 663.5,162.7 663.8,157.4 664.1,167.9 664.4,161.5 664.7,156.6 664.9,156.6 665.2,163.2 665.5,169.8 665.8,163.0 666.1,171.4 666.4,170.1 666.7,170.6 666.9,174.8 667.2,177.2 667.5,173.1 667.8,173.5 668.1,176.3 668.4,171.5 668.7,172.8 669.0,177.3 669.2,177.4 669.5,175.6 669.8,177.5 670.1,172.8 670.4,176.8 670.7,175.8 671.0,176.6 671.2,173.5 671.5,176.3 671.8,174.3 672.1,176.1 672.4,174.1 672.7,175.2 673.0,172.6 673.2,172.4 673.5,177.0 673.8,171.2 674.1,173.1 674.4,172.9 674.7,174.4 675.0,175.3 675.2,171.9 675.5,176.8 675.8,172.6 676.1,176.2 676.4,177.3 676.7,177.3 677.0,173.9 677.3,176.9 677.5,177.5 677.8,177.0 678.1,177.5 678.4,177.0 678.7,176.1 679.0,174.7 679.3,172.4 679.5,176.6 679.8,174.2 680.1,175.7 680.4,173.6" fill="none" stroke="#ff0000" stroke-width="0.85" stroke-linejoin="round" />
<rect x="512.4" y="101.9" width="168.2" height="79.1" fill="none" stroke="#7a7a7a" stroke-width="1.1"/>
<line x1="512.4" y1="181.0" x2="512.4" y2="183.2" stroke="#000" stroke-width="0.7"/>
<text x="512.4" y="191.6" font-size="8.5" text-anchor="middle">0</text>
<line x1="560.1" y1="181.0" x2="560.1" y2="183.2" stroke="#000" stroke-width="0.7"/>
<text x="560.1" y="191.6" font-size="8.5" text-anchor="middle">1000</text>
<line x1="607.8" y1="181.0" x2="607.8" y2="183.2" stroke="#000" stroke-width="0.7"/>
<text x="607.8" y="191.6" font-size="8.5" text-anchor="middle">2000</text>
<line x1="655.5" y1="181.0" x2="655.5" y2="183.2" stroke="#000" stroke-width="0.7"/>
<text x="655.5" y="191.6" font-size="8.5" text-anchor="middle">3000</text>
<line x1="510.2" y1="181.0" x2="512.4" y2="181.0" stroke="#000" stroke-width="0.7"/>
<text x="509.09999999999997" y="184.1" font-size="8.5" text-anchor="end">0</text>
<line x1="510.2" y1="149.1" x2="512.4" y2="149.1" stroke="#000" stroke-width="0.7"/>
<text x="509.09999999999997" y="152.2" font-size="8.5" text-anchor="end">50</text>
<line x1="510.2" y1="117.2" x2="512.4" y2="117.2" stroke="#000" stroke-width="0.7"/>
<text x="509.09999999999997" y="120.3" font-size="8.5" text-anchor="end">100</text>
<text x="594.7" y="204" font-size="8.9" font-weight="normal" text-anchor="middle" fill="#000" >Test samples (hour)</text>
<text transform="translate(492,94.6) rotate(-90)" font-size="8.8" text-anchor="middle">Chl-<tspan font-style="italic">a</tspan> (μg L<tspan dy="-3" font-size="6">−1</tspan><tspan dy="3">)</tspan></text>
<rect x="616.5" y="104.4" width="61" height="23.2" rx="1.2" fill="#fff" fill-opacity="0.85" stroke="#ccc" stroke-width="0.8"/>
<line x1="619.8" y1="110.4" x2="631.5" y2="110.4" stroke="#000" stroke-width="1.1"/>
<line x1="619.8" y1="121.4" x2="631.5" y2="121.4" stroke="#f00" stroke-width="1.1"/>
<text x="636.4" y="113.6" font-size="9" font-weight="normal" text-anchor="start" fill="#000" >Observed</text>
<text x="636.4" y="124.6" font-size="9" font-weight="normal" text-anchor="start" fill="#000" >Predicted</text>
<defs>
<radialGradient id="wg" gradientUnits="userSpaceOnUse" cx="0" cy="0" r="1" gradientTransform="translate(352,352) scale(195,130)">
<stop offset="0" stop-color="#98f8ae"/><stop offset="0.45" stop-color="#99f6b2"/><stop offset="0.75" stop-color="#9fedd2"/><stop offset="1" stop-color="#a4e1ed"/>
</radialGradient>
<linearGradient id="gg" x1="0" y1="0" x2="1" y2="1"><stop offset="0" stop-color="#b7ad99"/><stop offset="0.6" stop-color="#b0a692"/><stop offset="1" stop-color="#a39a87"/></linearGradient>
<linearGradient id="instF" x1="0" y1="0" x2="1" y2="1"><stop offset="0" stop-color="#cfd0d2"/><stop offset="1" stop-color="#b4b5b8"/></linearGradient>
<linearGradient id="instT" x1="0" y1="1" x2="1" y2="0"><stop offset="0" stop-color="#dcdcdc"/><stop offset="0.5" stop-color="#ffffff"/><stop offset="1" stop-color="#e4e4e4"/></linearGradient>
<linearGradient id="teal" x1="0.15" y1="0.15" x2="0.85" y2="0.85"><stop offset="0" stop-color="#74ae8e"/><stop offset="1" stop-color="#2c7f5f"/></linearGradient>
<radialGradient id="olive" cx="0.5" cy="0.5" r="0.6"><stop offset="0" stop-color="#a3a78a"/><stop offset="0.7" stop-color="#aab394"/><stop offset="1" stop-color="#a5c8a0"/></radialGradient>
</defs>
<path d="M294.4,299.5 L675.8,299.5 L675.8,427 C668,433 660,438 654.3,442.9 C644,452 634,460 625.7,467 C620,473 616,480 611.4,482.9 C603,489 596,494 588.6,498.6 C582,503 576,506 570,508.6 L570,512 L180,512 L180,401 L198,395 L198,299.5 Z" fill="url(#wg)"/>
<path d="M570,508.6 C576,506 582,503 588.6,498.6 C596,494 603,489 611.4,482.9 C616,480 620,473 625.7,467 C634,460 644,452 654.3,442.9 C660,438 668,433 675.8,427 L675.8,447 L570,550 Z" fill="#b0a793"/>
<path d="M20,401 L190,401 C196,408 200,414 203.5,420 C207,428 210,436 213.6,440 C216,446 219,450 223.6,452 C240,458 255,462 270.6,467 C288,473 305,479 320.9,483.8 C333,488 345,491 357.7,493.9 C372,497 386,498.5 400,499 L442.4,499 C452,501 460,505 469,507 C484,510.5 499,512 513.8,512.4 C526,512.8 538,512.5 549.5,511.5 C557,510.8 564,509.8 570,508.6 L570,550 L20,550 Z" fill="url(#gg)"/>
<g fill="none" stroke="#b0f5fc" stroke-width="1.25"><path d="M190,401.3 L570,401.3 L570,508"/><path d="M570,401.3 L675.5,300"/><path d="M294,299.8 L675.6,299.8 L675.6,427" stroke-width="1.2"/></g>
<path d="M20,401.6 L66,357.5 L69,357.5 L69,387 L211,387 L211,386 C208,392 204,396 198,399 L190,401.6 Z" fill="#7dab63"/>
<path d="M211,300 L294.4,299.5 C288,303 283,307 280,311.4 C278,316 277,320 275.7,324.3 C272,331 269,337 265,341.4 C262,345 258,347.5 254.3,349 C247,351.5 240,352.5 232.9,354.3 C228,356.5 224,359 220,362.9 C217,367 215,371 213.6,375.7 C212.3,379 211.2,383 210.4,386.4 L198,386.4 L198,300 Z" fill="#a9c39b" stroke="#8fae7e" stroke-width="1"/>
<g stroke-linecap="round"><path d="M28.2,401.3 q-0.2,-6.8 -1.2,-11.3" stroke="#3a9e3a" stroke-width="1.16" fill="none"/><path d="M43.7,388.5 q-0.0,-4.5 -0.1,-7.5" stroke="#3a9e3a" stroke-width="0.96" fill="none"/><path d="M57.1,368.2 q0.2,-5.5 1.1,-9.1" stroke="#5cc244" stroke-width="1.05" fill="none"/><path d="M26.7,398.8 q0.1,-3.7 0.7,-6.2" stroke="#2fae3a" stroke-width="1.26" fill="none"/><path d="M39.5,388.4 q-0.5,-5.4 -2.4,-9.0" stroke="#5cc244" stroke-width="1.16" fill="none"/><path d="M65.2,381.6 q0.2,-5.1 0.9,-8.4" stroke="#3a9e3a" stroke-width="1.27" fill="none"/><path d="M64.6,376.7 q0.4,-7.4 2.1,-12.4" stroke="#2fae3a" stroke-width="0.81" fill="none"/><path d="M67.7,392.8 q-0.2,-4.1 -0.8,-6.8" stroke="#49b849" stroke-width="1.28" fill="none"/><path d="M45.0,400.0 q0.4,-5.7 2.1,-9.6" stroke="#5cc244" stroke-width="0.88" fill="none"/><path d="M49.0,397.4 q0.0,-7.2 0.0,-11.9" stroke="#b8e27a" stroke-width="1.21" fill="none"/><path d="M44.1,395.6 q0.2,-5.3 0.8,-8.8" stroke="#8fd455" stroke-width="1.03" fill="none"/><path d="M54.3,390.3 q-0.1,-5.2 -0.3,-8.6" stroke="#b8e27a" stroke-width="0.76" fill="none"/><path d="M29.5,400.9 q0.2,-5.2 1.2,-8.6" stroke="#3a9e3a" stroke-width="0.73" fill="none"/><path d="M54.4,399.3 q-0.1,-6.1 -0.5,-10.2" stroke="#5cc244" stroke-width="0.80" fill="none"/><path d="M32.4,391.8 q0.4,-4.4 2.1,-7.4" stroke="#b8e27a" stroke-width="0.84" fill="none"/><path d="M45.6,399.6 q-0.0,-6.0 -0.2,-10.0" stroke="#8fd455" stroke-width="1.10" fill="none"/><path d="M50.0,393.3 q0.4,-5.2 1.8,-8.7" stroke="#49b849" stroke-width="1.01" fill="none"/><path d="M27.9,400.9 q0.4,-4.5 2.2,-7.4" stroke="#3a9e3a" stroke-width="1.22" fill="none"/><path d="M48.2,381.4 q-0.0,-5.7 -0.1,-9.5" stroke="#8fd455" stroke-width="0.95" fill="none"/><path d="M22.1,402.3 q-0.2,-6.9 -0.8,-11.5" stroke="#b8e27a" stroke-width="0.72" fill="none"/><path d="M32.6,393.4 q0.4,-6.1 1.8,-10.1" stroke="#b8e27a" stroke-width="1.18" fill="none"/><path d="M59.6,374.3 q0.2,-7.1 0.9,-11.9" stroke="#2fae3a" stroke-width="1.22" fill="none"/><path d="M42.8,396.2 q-0.2,-4.8 -1.2,-8.0" stroke="#b8e27a" stroke-width="0.81" fill="none"/><path d="M35.4,391.0 q0.5,-4.7 2.3,-7.8" stroke="#49b849" stroke-width="0.86" fill="none"/><path d="M54.7,383.7 q-0.0,-5.0 -0.1,-8.3" stroke="#2fae3a" stroke-width="0.89" fill="none"/><path d="M37.8,398.3 q-0.2,-4.7 -1.2,-7.8" stroke="#49b849" stroke-width="1.01" fill="none"/><path d="M31.6,398.2 q-0.5,-7.0 -2.4,-11.7" stroke="#2fae3a" stroke-width="0.94" fill="none"/><path d="M23.6,402.6 q0.0,-5.5 0.0,-9.1" stroke="#3a9e3a" stroke-width="1.03" fill="none"/><path d="M32.1,401.7 q0.0,-7.0 0.1,-11.6" stroke="#5cc244" stroke-width="1.01" fill="none"/><path d="M23.4,402.0 q0.2,-7.0 0.8,-11.6" stroke="#3a9e3a" stroke-width="0.74" fill="none"/><path d="M35.7,401.1 q-0.2,-7.3 -1.0,-12.1" stroke="#2fae3a" stroke-width="0.89" fill="none"/><path d="M65.2,388.9 q-0.2,-5.3 -1.2,-8.9" stroke="#2fae3a" stroke-width="1.04" fill="none"/><path d="M61.1,384.9 q0.4,-4.5 2.0,-7.5" stroke="#3a9e3a" stroke-width="0.80" fill="none"/><path d="M61.9,398.1 q0.0,-6.6 0.0,-10.9" stroke="#3a9e3a" stroke-width="0.82" fill="none"/><path d="M26.6,400.3 q0.1,-7.4 0.5,-12.3" stroke="#3a9e3a" stroke-width="0.76" fill="none"/><path d="M52.6,380.5 q-0.2,-5.7 -0.9,-9.5" stroke="#3a9e3a" stroke-width="1.24" fill="none"/><path d="M22.8,401.3 q0.5,-5.0 2.4,-8.3" stroke="#5cc244" stroke-width="0.90" fill="none"/><path d="M31.8,398.8 q0.4,-7.1 2.2,-11.9" stroke="#8fd455" stroke-width="1.25" fill="none"/><path d="M60.5,383.2 q0.0,-6.8 0.2,-11.4" stroke="#2fae3a" stroke-width="1.14" fill="none"/><path d="M25.9,398.7 q-0.3,-7.4 -1.4,-12.4" stroke="#8fd455" stroke-width="1.06" fill="none"/><path d="M60.7,377.4 q-0.2,-5.0 -1.0,-8.4" stroke="#b8e27a" stroke-width="1.17" fill="none"/><path d="M54.9,384.6 q0.3,-6.0 1.4,-10.1" stroke="#8fd455" stroke-width="0.72" fill="none"/><path d="M25.4,402.0 q0.3,-6.9 1.6,-11.5" stroke="#8fd455" stroke-width="0.77" fill="none"/><path d="M49.0,398.5 q0.1,-3.9 0.3,-6.5" stroke="#b8e27a" stroke-width="0.75" fill="none"/><path d="M34.3,400.4 q0.4,-6.0 2.1,-10.0" stroke="#3a9e3a" stroke-width="1.24" fill="none"/><path d="M27.0,397.2 q0.1,-4.8 0.6,-8.1" stroke="#2fae3a" stroke-width="0.76" fill="none"/><path d="M27.3,401.7 q-0.3,-3.8 -1.3,-6.3" stroke="#b8e27a" stroke-width="0.95" fill="none"/><path d="M27.3,397.6 q0.2,-4.6 1.2,-7.7" stroke="#2fae3a" stroke-width="0.96" fill="none"/><path d="M66.4,391.0 q0.3,-5.9 1.6,-9.8" stroke="#b8e27a" stroke-width="0.85" fill="none"/><path d="M43.9,382.7 q-0.5,-6.3 -2.3,-10.6" stroke="#2fae3a" stroke-width="1.17" fill="none"/><path d="M64.6,388.4 q-0.1,-4.9 -0.5,-8.2" stroke="#3a9e3a" stroke-width="0.74" fill="none"/><path d="M64.0,397.7 q-0.4,-7.7 -1.9,-12.8" stroke="#5cc244" stroke-width="1.17" fill="none"/><path d="M57.8,396.0 q-0.0,-7.2 -0.2,-12.1" stroke="#8fd455" stroke-width="0.86" fill="none"/><path d="M46.9,384.8 q-0.4,-4.6 -2.1,-7.7" stroke="#8fd455" stroke-width="0.75" fill="none"/><path d="M56.7,371.3 q-0.2,-6.0 -0.8,-10.0" stroke="#5cc244" stroke-width="0.93" fill="none"/><path d="M36.1,392.6 q0.3,-4.9 1.7,-8.2" stroke="#8fd455" stroke-width="0.85" fill="none"/><path d="M26.6,400.4 q-0.4,-7.0 -2.0,-11.7" stroke="#5cc244" stroke-width="0.71" fill="none"/><path d="M33.2,391.7 q-0.4,-5.9 -2.1,-9.9" stroke="#2fae3a" stroke-width="0.71" fill="none"/><path d="M22.5,402.4 q-0.0,-5.1 -0.2,-8.5" stroke="#5cc244" stroke-width="0.76" fill="none"/><path d="M57.8,378.0 q0.2,-5.7 0.8,-9.6" stroke="#5cc244" stroke-width="1.17" fill="none"/><path d="M67.3,391.4 q-0.4,-4.9 -2.0,-8.2" stroke="#b8e27a" stroke-width="1.20" fill="none"/><path d="M49.7,378.4 q0.0,-4.5 0.2,-7.4" stroke="#49b849" stroke-width="0.72" fill="none"/><path d="M36.5,400.2 q0.4,-7.0 2.0,-11.6" stroke="#49b849" stroke-width="1.29" fill="none"/><path d="M31.4,395.4 q-0.5,-5.9 -2.3,-9.8" stroke="#49b849" stroke-width="0.85" fill="none"/><path d="M57.8,389.3 q-0.1,-5.5 -0.3,-9.1" stroke="#8fd455" stroke-width="1.02" fill="none"/><path d="M61.2,380.0 q-0.2,-5.3 -0.8,-8.8" stroke="#8fd455" stroke-width="0.99" fill="none"/><path d="M58.5,397.2 q-0.5,-7.7 -2.4,-12.8" stroke="#49b849" stroke-width="0.91" fill="none"/><path d="M28.4,396.4 q0.3,-4.7 1.6,-7.8" stroke="#3a9e3a" stroke-width="1.04" fill="none"/><path d="M29.9,394.8 q-0.3,-5.6 -1.6,-9.4" stroke="#8fd455" stroke-width="1.00" fill="none"/><path d="M51.8,384.9 q0.2,-6.5 1.2,-10.8" stroke="#5cc244" stroke-width="0.89" fill="none"/><path d="M53.6,398.6 q-0.2,-6.6 -0.8,-11.0" stroke="#b8e27a" stroke-width="1.24" fill="none"/><path d="M64.2,371.6 q-0.5,-6.3 -2.3,-10.5" stroke="#2fae3a" stroke-width="1.16" fill="none"/><path d="M51.7,383.2 q0.3,-5.7 1.5,-9.6" stroke="#5cc244" stroke-width="0.89" fill="none"/><path d="M53.9,395.5 q0.2,-5.2 1.0,-8.6" stroke="#49b849" stroke-width="0.98" fill="none"/><path d="M25.9,398.5 q0.0,-6.1 0.1,-10.2" stroke="#3a9e3a" stroke-width="0.81" fill="none"/><path d="M33.5,393.1 q0.3,-6.0 1.3,-10.0" stroke="#2fae3a" stroke-width="1.00" fill="none"/><path d="M40.1,395.0 q0.3,-5.2 1.7,-8.7" stroke="#b8e27a" stroke-width="1.14" fill="none"/><path d="M23.9,402.6 q0.1,-7.0 0.6,-11.7" stroke="#8fd455" stroke-width="1.14" fill="none"/><path d="M25.9,402.4 q0.1,-7.7 0.6,-12.8" stroke="#49b849" stroke-width="1.11" fill="none"/><path d="M25.8,401.8 q0.4,-4.6 1.8,-7.7" stroke="#3a9e3a" stroke-width="0.94" fill="none"/><path d="M63.9,378.0 q-0.0,-6.2 -0.1,-10.4" stroke="#5cc244" stroke-width="0.77" fill="none"/><path d="M49.6,385.4 q-0.2,-4.1 -1.0,-6.8" stroke="#5cc244" stroke-width="0.93" fill="none"/><path d="M47.7,399.5 q0.1,-5.8 0.4,-9.7" stroke="#2fae3a" stroke-width="1.08" fill="none"/><path d="M49.9,396.1 q-0.2,-4.5 -1.1,-7.4" stroke="#b8e27a" stroke-width="0.82" fill="none"/><path d="M36.3,398.2 q-0.1,-7.1 -0.3,-11.8" stroke="#5cc244" stroke-width="1.03" fill="none"/><path d="M44.6,397.7 q0.1,-6.8 0.4,-11.4" stroke="#3a9e3a" stroke-width="0.82" fill="none"/><path d="M59.3,396.1 q0.1,-3.7 0.3,-6.2" stroke="#2fae3a" stroke-width="1.03" fill="none"/><path d="M66.4,389.2 q-0.4,-7.7 -1.8,-12.8" stroke="#b8e27a" stroke-width="0.92" fill="none"/><path d="M59.1,380.7 q0.3,-6.4 1.3,-10.7" stroke="#8fd455" stroke-width="0.70" fill="none"/><path d="M42.3,390.6 q-0.1,-4.9 -0.5,-8.1" stroke="#49b849" stroke-width="1.11" fill="none"/><path d="M44.6,393.4 q-0.3,-5.2 -1.5,-8.6" stroke="#2fae3a" stroke-width="1.30" fill="none"/><path d="M51.2,392.8 q0.2,-6.7 1.1,-11.2" stroke="#5cc244" stroke-width="1.29" fill="none"/><path d="M43.2,397.6 q0.2,-5.3 1.2,-8.9" stroke="#8fd455" stroke-width="1.12" fill="none"/><path d="M42.7,394.6 q0.0,-4.4 0.1,-7.4" stroke="#49b849" stroke-width="0.93" fill="none"/><path d="M41.6,390.3 q0.1,-7.2 0.4,-12.0" stroke="#49b849" stroke-width="1.12" fill="none"/><path d="M66.5,361.8 q-0.3,-7.7 -1.3,-12.9" stroke="#49b849" stroke-width="0.87" fill="none"/><path d="M23.0,402.2 q0.3,-4.3 1.4,-7.1" stroke="#3a9e3a" stroke-width="1.17" fill="none"/><path d="M60.9,391.1 q0.1,-7.0 0.5,-11.7" stroke="#8fd455" stroke-width="1.25" fill="none"/><path d="M58.7,380.0 q-0.2,-6.5 -1.0,-10.8" stroke="#3a9e3a" stroke-width="1.20" fill="none"/><path d="M44.3,389.9 q0.0,-3.8 0.1,-6.3" stroke="#49b849" stroke-width="1.05" fill="none"/><path d="M25.2,398.9 q-0.3,-5.5 -1.7,-9.1" stroke="#49b849" stroke-width="1.27" fill="none"/><path d="M53.8,382.8 q0.1,-6.5 0.5,-10.8" stroke="#5cc244" stroke-width="1.02" fill="none"/><path d="M32.9,394.8 q0.2,-3.9 1.0,-6.5" stroke="#b8e27a" stroke-width="1.10" fill="none"/><path d="M43.5,392.1 q-0.2,-3.8 -1.0,-6.3" stroke="#49b849" stroke-width="1.13" fill="none"/><path d="M59.5,374.9 q-0.3,-6.2 -1.3,-10.3" stroke="#b8e27a" stroke-width="0.94" fill="none"/><path d="M44.2,385.7 q0.2,-6.2 1.1,-10.3" stroke="#8fd455" stroke-width="1.28" fill="none"/><path d="M54.5,395.2 q0.4,-3.7 2.0,-6.2" stroke="#b8e27a" stroke-width="0.94" fill="none"/><path d="M64.7,396.2 q-0.2,-4.6 -1.2,-7.7" stroke="#2fae3a" stroke-width="1.08" fill="none"/><path d="M29.6,401.9 q0.4,-5.5 2.1,-9.1" stroke="#49b849" stroke-width="0.79" fill="none"/><path d="M65.5,377.8 q0.3,-4.3 1.4,-7.1" stroke="#49b849" stroke-width="0.96" fill="none"/></g>
<g stroke-linecap="round"><path d="M217.4,315.4 q0.2,-6.5 1.2,-10.8" stroke="#49b849" stroke-width="1.21" fill="none"/><path d="M232.6,324.9 q0.2,-3.2 0.9,-5.3" stroke="#3a9e3a" stroke-width="1.08" fill="none"/><path d="M252.7,336.9 q0.0,-6.9 0.0,-11.5" stroke="#2fae3a" stroke-width="1.22" fill="none"/><path d="M226.8,326.3 q-0.3,-3.7 -1.6,-6.2" stroke="#b8e27a" stroke-width="1.01" fill="none"/><path d="M254.4,345.8 q0.0,-6.9 0.0,-11.5" stroke="#8fd455" stroke-width="1.10" fill="none"/><path d="M256.5,343.2 q0.4,-5.8 2.2,-9.6" stroke="#49b849" stroke-width="1.20" fill="none"/><path d="M251.1,336.5 q0.4,-5.9 1.9,-9.8" stroke="#8fd455" stroke-width="1.14" fill="none"/><path d="M271.1,313.4 q-0.2,-5.7 -1.1,-9.6" stroke="#5cc244" stroke-width="1.11" fill="none"/><path d="M223.6,328.9 q0.4,-6.5 2.2,-10.8" stroke="#2fae3a" stroke-width="0.95" fill="none"/><path d="M268.9,311.4 q-0.3,-4.5 -1.6,-7.5" stroke="#49b849" stroke-width="0.71" fill="none"/><path d="M222.0,314.1 q0.4,-3.2 2.1,-5.3" stroke="#8fd455" stroke-width="0.85" fill="none"/><path d="M243.1,312.2 q-0.3,-7.2 -1.7,-11.9" stroke="#2fae3a" stroke-width="0.70" fill="none"/><path d="M251.1,332.1 q0.1,-5.3 0.5,-8.9" stroke="#2fae3a" stroke-width="1.24" fill="none"/><path d="M237.7,316.7 q0.4,-4.9 1.9,-8.1" stroke="#5cc244" stroke-width="1.01" fill="none"/><path d="M239.6,328.6 q0.2,-7.1 0.8,-11.8" stroke="#49b849" stroke-width="1.03" fill="none"/><path d="M224.0,313.3 q-0.3,-3.1 -1.7,-5.2" stroke="#2fae3a" stroke-width="0.97" fill="none"/><path d="M268.2,311.4 q0.2,-4.0 1.1,-6.7" stroke="#2fae3a" stroke-width="0.85" fill="none"/><path d="M233.0,340.7 q-0.5,-5.2 -2.5,-8.7" stroke="#2fae3a" stroke-width="0.93" fill="none"/><path d="M225.5,347.4 q-0.4,-3.4 -2.0,-5.6" stroke="#2fae3a" stroke-width="0.81" fill="none"/><path d="M231.1,325.3 q-0.0,-5.2 -0.2,-8.6" stroke="#8fd455" stroke-width="1.02" fill="none"/><path d="M214.7,353.4 q0.4,-6.7 2.1,-11.2" stroke="#b8e27a" stroke-width="0.81" fill="none"/><path d="M241.6,347.9 q0.1,-6.9 0.6,-11.5" stroke="#8fd455" stroke-width="1.11" fill="none"/><path d="M221.2,323.9 q0.3,-6.3 1.6,-10.4" stroke="#3a9e3a" stroke-width="0.74" fill="none"/><path d="M213.4,310.8 q0.2,-4.3 1.1,-7.1" stroke="#5cc244" stroke-width="1.15" fill="none"/><path d="M228.0,351.9 q-0.0,-4.6 -0.2,-7.7" stroke="#8fd455" stroke-width="0.94" fill="none"/><path d="M222.5,318.1 q0.4,-3.3 1.8,-5.6" stroke="#49b849" stroke-width="0.93" fill="none"/><path d="M229.5,316.9 q-0.0,-5.6 -0.1,-9.3" stroke="#2fae3a" stroke-width="1.13" fill="none"/><path d="M251.8,335.8 q0.3,-4.9 1.5,-8.2" stroke="#8fd455" stroke-width="0.99" fill="none"/><path d="M243.8,320.7 q0.0,-5.5 0.2,-9.2" stroke="#49b849" stroke-width="1.11" fill="none"/><path d="M224.4,340.3 q-0.4,-3.3 -2.1,-5.5" stroke="#49b849" stroke-width="1.29" fill="none"/><path d="M263.6,318.6 q-0.3,-4.2 -1.3,-7.1" stroke="#49b849" stroke-width="1.23" fill="none"/><path d="M238.7,321.9 q-0.3,-4.2 -1.7,-7.0" stroke="#3a9e3a" stroke-width="0.76" fill="none"/><path d="M224.3,342.1 q0.1,-3.1 0.5,-5.2" stroke="#49b849" stroke-width="0.81" fill="none"/><path d="M252.8,345.2 q0.2,-4.7 1.1,-7.8" stroke="#3a9e3a" stroke-width="1.12" fill="none"/><path d="M261.5,339.2 q0.5,-5.8 2.4,-9.7" stroke="#49b849" stroke-width="1.25" fill="none"/><path d="M237.4,348.3 q-0.0,-6.8 -0.2,-11.3" stroke="#5cc244" stroke-width="1.19" fill="none"/><path d="M223.8,354.9 q-0.2,-4.8 -1.2,-8.0" stroke="#b8e27a" stroke-width="0.80" fill="none"/><path d="M265.2,313.9 q0.4,-5.5 2.1,-9.1" stroke="#8fd455" stroke-width="0.98" fill="none"/><path d="M217.2,346.5 q0.2,-7.2 0.9,-11.9" stroke="#5cc244" stroke-width="0.71" fill="none"/><path d="M241.6,349.3 q-0.1,-4.6 -0.3,-7.7" stroke="#49b849" stroke-width="0.89" fill="none"/><path d="M220.3,356.5 q0.0,-4.6 0.2,-7.7" stroke="#5cc244" stroke-width="1.18" fill="none"/><path d="M262.0,332.1 q-0.0,-4.0 -0.2,-6.6" stroke="#5cc244" stroke-width="1.01" fill="none"/><path d="M217.8,317.4 q0.3,-5.8 1.4,-9.7" stroke="#8fd455" stroke-width="0.83" fill="none"/><path d="M240.8,334.1 q-0.0,-4.5 -0.0,-7.5" stroke="#8fd455" stroke-width="0.98" fill="none"/><path d="M234.3,320.9 q-0.0,-6.7 -0.2,-11.2" stroke="#49b849" stroke-width="1.21" fill="none"/><path d="M227.5,319.5 q-0.2,-3.6 -1.2,-5.9" stroke="#b8e27a" stroke-width="1.08" fill="none"/><path d="M243.8,322.1 q-0.1,-7.0 -0.7,-11.7" stroke="#3a9e3a" stroke-width="0.75" fill="none"/><path d="M221.1,321.5 q0.4,-3.3 1.9,-5.5" stroke="#49b849" stroke-width="1.16" fill="none"/><path d="M247.0,349.7 q0.3,-4.0 1.7,-6.7" stroke="#3a9e3a" stroke-width="1.02" fill="none"/><path d="M241.1,324.2 q0.5,-5.1 2.4,-8.5" stroke="#5cc244" stroke-width="0.90" fill="none"/><path d="M224.0,336.0 q-0.3,-3.4 -1.6,-5.6" stroke="#49b849" stroke-width="0.84" fill="none"/><path d="M260.6,334.2 q0.3,-4.6 1.3,-7.6" stroke="#2fae3a" stroke-width="1.22" fill="none"/><path d="M226.8,313.7 q-0.2,-4.9 -1.1,-8.1" stroke="#8fd455" stroke-width="1.01" fill="none"/><path d="M243.6,344.5 q-0.2,-5.6 -0.9,-9.3" stroke="#b8e27a" stroke-width="1.06" fill="none"/><path d="M245.1,348.4 q-0.4,-3.2 -2.0,-5.3" stroke="#b8e27a" stroke-width="0.78" fill="none"/><path d="M213.7,316.9 q-0.3,-4.5 -1.6,-7.5" stroke="#5cc244" stroke-width="0.96" fill="none"/><path d="M218.0,319.5 q0.2,-3.1 1.0,-5.2" stroke="#b8e27a" stroke-width="0.74" fill="none"/><path d="M223.9,345.9 q-0.4,-3.6 -1.9,-5.9" stroke="#2fae3a" stroke-width="0.98" fill="none"/><path d="M261.9,334.3 q-0.1,-5.7 -0.5,-9.5" stroke="#49b849" stroke-width="1.01" fill="none"/><path d="M226.5,324.1 q-0.4,-4.4 -1.8,-7.4" stroke="#5cc244" stroke-width="0.94" fill="none"/><path d="M256.9,344.5 q0.3,-4.2 1.3,-7.0" stroke="#8fd455" stroke-width="0.84" fill="none"/><path d="M264.3,311.3 q-0.3,-5.3 -1.5,-8.9" stroke="#5cc244" stroke-width="0.93" fill="none"/><path d="M216.1,319.4 q-0.2,-3.1 -1.2,-5.2" stroke="#49b849" stroke-width="0.99" fill="none"/><path d="M259.7,311.9 q-0.4,-3.8 -2.0,-6.4" stroke="#49b849" stroke-width="1.12" fill="none"/><path d="M220.2,360.5 q0.1,-6.6 0.6,-11.1" stroke="#5cc244" stroke-width="0.79" fill="none"/><path d="M265.1,311.5 q0.4,-4.2 1.8,-7.1" stroke="#49b849" stroke-width="1.12" fill="none"/><path d="M229.7,334.0 q-0.1,-5.3 -0.5,-8.8" stroke="#b8e27a" stroke-width="1.15" fill="none"/><path d="M223.0,321.8 q0.4,-6.7 1.9,-11.1" stroke="#8fd455" stroke-width="0.93" fill="none"/><path d="M258.3,342.4 q0.4,-6.2 1.8,-10.3" stroke="#8fd455" stroke-width="0.89" fill="none"/><path d="M226.3,354.4 q-0.3,-6.6 -1.4,-11.0" stroke="#b8e27a" stroke-width="1.09" fill="none"/><path d="M258.0,318.6 q0.4,-6.9 1.8,-11.5" stroke="#b8e27a" stroke-width="1.20" fill="none"/><path d="M236.3,309.9 q-0.3,-6.7 -1.5,-11.1" stroke="#8fd455" stroke-width="0.74" fill="none"/><path d="M218.6,344.3 q-0.2,-6.0 -1.1,-10.0" stroke="#b8e27a" stroke-width="0.78" fill="none"/><path d="M224.7,354.5 q-0.4,-4.6 -2.2,-7.6" stroke="#b8e27a" stroke-width="0.97" fill="none"/><path d="M234.8,315.2 q0.3,-5.0 1.4,-8.4" stroke="#5cc244" stroke-width="0.79" fill="none"/><path d="M253.9,326.6 q-0.4,-3.9 -2.2,-6.5" stroke="#49b849" stroke-width="0.85" fill="none"/><path d="M248.6,338.6 q-0.2,-7.0 -1.1,-11.7" stroke="#5cc244" stroke-width="0.83" fill="none"/><path d="M265.6,313.0 q-0.1,-6.0 -0.5,-9.9" stroke="#b8e27a" stroke-width="0.86" fill="none"/><path d="M241.4,336.1 q-0.0,-7.0 -0.0,-11.6" stroke="#2fae3a" stroke-width="1.12" fill="none"/><path d="M270.3,325.6 q-0.0,-3.1 -0.1,-5.2" stroke="#5cc244" stroke-width="1.09" fill="none"/><path d="M229.1,327.1 q-0.4,-3.2 -1.8,-5.3" stroke="#8fd455" stroke-width="1.27" fill="none"/><path d="M221.0,350.8 q0.2,-3.4 0.9,-5.6" stroke="#3a9e3a" stroke-width="1.12" fill="none"/><path d="M215.6,347.4 q-0.5,-4.1 -2.3,-6.9" stroke="#b8e27a" stroke-width="0.91" fill="none"/><path d="M260.3,317.0 q-0.1,-6.3 -0.7,-10.5" stroke="#49b849" stroke-width="0.87" fill="none"/><path d="M250.3,330.2 q-0.4,-5.5 -1.8,-9.2" stroke="#2fae3a" stroke-width="0.90" fill="none"/><path d="M278.3,309.6 q0.5,-5.8 2.5,-9.7" stroke="#49b849" stroke-width="0.73" fill="none"/><path d="M246.4,327.0 q0.1,-3.8 0.6,-6.3" stroke="#2fae3a" stroke-width="1.06" fill="none"/><path d="M265.5,331.1 q-0.5,-6.8 -2.3,-11.3" stroke="#5cc244" stroke-width="1.04" fill="none"/><path d="M217.9,336.0 q0.4,-6.9 2.1,-11.5" stroke="#5cc244" stroke-width="0.84" fill="none"/><path d="M227.8,309.5 q0.0,-4.7 0.0,-7.8" stroke="#8fd455" stroke-width="1.05" fill="none"/><path d="M230.3,348.4 q0.4,-7.2 2.1,-12.0" stroke="#3a9e3a" stroke-width="1.25" fill="none"/><path d="M222.9,341.0 q-0.1,-4.9 -0.6,-8.2" stroke="#b8e27a" stroke-width="0.81" fill="none"/><path d="M232.6,323.0 q-0.1,-3.6 -0.4,-6.1" stroke="#49b849" stroke-width="0.85" fill="none"/><path d="M247.5,343.8 q-0.2,-4.8 -1.2,-8.0" stroke="#5cc244" stroke-width="0.91" fill="none"/><path d="M262.3,311.4 q0.3,-4.7 1.7,-7.8" stroke="#3a9e3a" stroke-width="0.88" fill="none"/><path d="M266.5,327.5 q-0.1,-6.0 -0.7,-10.0" stroke="#b8e27a" stroke-width="0.98" fill="none"/><path d="M254.7,343.6 q0.3,-7.0 1.3,-11.7" stroke="#3a9e3a" stroke-width="0.77" fill="none"/><path d="M266.4,327.4 q0.2,-7.1 0.8,-11.8" stroke="#3a9e3a" stroke-width="0.77" fill="none"/><path d="M244.3,312.0 q-0.4,-4.9 -1.9,-8.2" stroke="#8fd455" stroke-width="0.89" fill="none"/><path d="M237.7,339.5 q0.4,-6.1 2.1,-10.2" stroke="#2fae3a" stroke-width="1.02" fill="none"/><path d="M260.1,334.8 q-0.4,-4.3 -1.8,-7.1" stroke="#49b849" stroke-width="0.73" fill="none"/><path d="M238.7,344.9 q0.5,-6.8 2.4,-11.3" stroke="#3a9e3a" stroke-width="1.08" fill="none"/><path d="M257.9,325.7 q-0.3,-5.6 -1.7,-9.3" stroke="#8fd455" stroke-width="1.17" fill="none"/><path d="M219.7,325.0 q-0.1,-4.5 -0.7,-7.6" stroke="#8fd455" stroke-width="1.29" fill="none"/><path d="M227.1,327.2 q0.2,-6.4 1.1,-10.7" stroke="#5cc244" stroke-width="0.83" fill="none"/><path d="M249.5,338.8 q-0.3,-4.1 -1.5,-6.9" stroke="#5cc244" stroke-width="0.70" fill="none"/><path d="M227.2,345.3 q0.2,-3.0 1.2,-5.0" stroke="#5cc244" stroke-width="1.30" fill="none"/><path d="M261.1,310.6 q-0.4,-4.5 -1.9,-7.5" stroke="#2fae3a" stroke-width="1.04" fill="none"/><path d="M249.9,318.1 q-0.3,-7.0 -1.6,-11.7" stroke="#3a9e3a" stroke-width="1.25" fill="none"/><path d="M263.0,329.0 q0.0,-6.7 0.2,-11.1" stroke="#b8e27a" stroke-width="1.12" fill="none"/><path d="M227.5,332.1 q0.4,-6.9 1.8,-11.5" stroke="#49b849" stroke-width="0.90" fill="none"/><path d="M215.2,317.9 q0.3,-3.4 1.4,-5.7" stroke="#b8e27a" stroke-width="1.19" fill="none"/><path d="M269.0,319.2 q-0.1,-3.6 -0.4,-5.9" stroke="#49b849" stroke-width="0.82" fill="none"/><path d="M256.1,310.5 q0.1,-3.1 0.7,-5.1" stroke="#49b849" stroke-width="0.74" fill="none"/><path d="M255.5,312.6 q-0.0,-7.1 -0.0,-11.8" stroke="#3a9e3a" stroke-width="1.11" fill="none"/><path d="M250.5,331.1 q0.1,-3.3 0.6,-5.4" stroke="#49b849" stroke-width="0.77" fill="none"/><path d="M225.1,331.5 q0.4,-5.4 1.9,-9.0" stroke="#b8e27a" stroke-width="0.78" fill="none"/><path d="M246.5,346.3 q0.4,-5.4 2.1,-8.9" stroke="#b8e27a" stroke-width="1.27" fill="none"/><path d="M264.2,312.2 q-0.1,-5.9 -0.6,-9.8" stroke="#3a9e3a" stroke-width="1.16" fill="none"/><path d="M222.7,347.6 q0.1,-5.4 0.6,-9.0" stroke="#5cc244" stroke-width="1.10" fill="none"/><path d="M254.9,332.5 q-0.3,-5.1 -1.3,-8.5" stroke="#3a9e3a" stroke-width="1.10" fill="none"/><path d="M248.6,332.5 q-0.4,-3.2 -2.0,-5.3" stroke="#2fae3a" stroke-width="1.04" fill="none"/><path d="M256.3,334.3 q-0.4,-4.0 -1.8,-6.6" stroke="#5cc244" stroke-width="1.26" fill="none"/><path d="M224.8,316.8 q-0.1,-4.3 -0.4,-7.1" stroke="#2fae3a" stroke-width="0.77" fill="none"/><path d="M213.1,316.2 q-0.1,-3.1 -0.3,-5.2" stroke="#5cc244" stroke-width="1.18" fill="none"/><path d="M242.7,332.5 q-0.2,-3.6 -1.2,-6.1" stroke="#8fd455" stroke-width="1.19" fill="none"/><path d="M236.0,338.5 q-0.1,-5.7 -0.4,-9.6" stroke="#b8e27a" stroke-width="0.98" fill="none"/><path d="M232.9,339.9 q0.2,-5.4 1.1,-9.1" stroke="#b8e27a" stroke-width="1.02" fill="none"/><path d="M253.9,329.9 q-0.1,-7.1 -0.6,-11.8" stroke="#2fae3a" stroke-width="1.14" fill="none"/><path d="M225.7,314.3 q-0.4,-6.4 -1.8,-10.7" stroke="#b8e27a" stroke-width="0.76" fill="none"/><path d="M242.1,323.0 q0.1,-6.8 0.3,-11.3" stroke="#3a9e3a" stroke-width="1.04" fill="none"/><path d="M252.1,328.1 q-0.2,-4.2 -1.2,-6.9" stroke="#2fae3a" stroke-width="1.09" fill="none"/><path d="M269.0,313.2 q0.1,-5.1 0.3,-8.4" stroke="#8fd455" stroke-width="1.14" fill="none"/><path d="M239.2,342.5 q-0.2,-3.9 -1.2,-6.5" stroke="#49b849" stroke-width="0.97" fill="none"/><path d="M216.7,333.1 q-0.3,-4.8 -1.4,-7.9" stroke="#3a9e3a" stroke-width="1.11" fill="none"/><path d="M250.5,340.6 q-0.4,-7.2 -2.1,-12.0" stroke="#5cc244" stroke-width="1.16" fill="none"/><path d="M218.2,348.9 q-0.5,-3.6 -2.3,-6.1" stroke="#5cc244" stroke-width="1.29" fill="none"/><path d="M259.0,316.7 q-0.3,-3.0 -1.5,-5.1" stroke="#49b849" stroke-width="1.02" fill="none"/><path d="M254.1,320.6 q-0.4,-4.2 -1.9,-7.1" stroke="#49b849" stroke-width="1.05" fill="none"/><path d="M221.3,358.8 q0.2,-5.8 0.8,-9.7" stroke="#3a9e3a" stroke-width="0.71" fill="none"/><path d="M230.0,321.2 q-0.1,-5.6 -0.3,-9.3" stroke="#2fae3a" stroke-width="1.04" fill="none"/><path d="M221.0,352.9 q0.3,-3.2 1.6,-5.3" stroke="#5cc244" stroke-width="1.11" fill="none"/><path d="M232.4,316.9 q-0.3,-5.1 -1.6,-8.4" stroke="#5cc244" stroke-width="0.93" fill="none"/><path d="M213.2,326.2 q-0.2,-7.2 -1.0,-12.0" stroke="#8fd455" stroke-width="0.88" fill="none"/><path d="M237.2,315.7 q0.2,-5.0 0.8,-8.3" stroke="#b8e27a" stroke-width="1.04" fill="none"/><path d="M262.5,313.8 q-0.4,-3.3 -1.8,-5.6" stroke="#2fae3a" stroke-width="0.79" fill="none"/><path d="M227.8,337.1 q-0.1,-5.7 -0.3,-9.6" stroke="#5cc244" stroke-width="0.76" fill="none"/><path d="M239.6,341.8 q-0.2,-4.0 -1.2,-6.7" stroke="#8fd455" stroke-width="1.25" fill="none"/><path d="M213.6,324.5 q-0.1,-3.2 -0.3,-5.4" stroke="#b8e27a" stroke-width="1.16" fill="none"/><path d="M215.5,317.4 q0.1,-3.5 0.3,-5.8" stroke="#b8e27a" stroke-width="0.95" fill="none"/></g>
<path d="M198.6,300 L211.2,312 L211.2,385 L198.6,385 Z" fill="#a8817a"/>
<path d="M68,386 L68,306 L133.5,258 L199,300 L199,386 Z" fill="#d8d7d2" stroke="#d8958d" stroke-width="1.8" stroke-linejoin="miter"/>
<path d="M37.3,329.6 L68,309.6 L68,316.9 L44.5,330.6 Z" fill="#a87f78"/>
<path d="M133.5,246.8 L148.5,246.8 L255.5,319 C257.5,322 256,326 252,327 L243,327 Z" fill="#a9827c"/>
<path d="M133.5,247.3 L249,322.5 C252,325 250,329 246,329.3 L238,329.5 L133.5,262.5 L42,328.5 L30,328.8 C24,328.5 21.5,323 26,319 Z" fill="#d3806e" stroke="#e2aca1" stroke-width="2" stroke-linejoin="round"/>
<g id="inst">
<path d="M156,316 L171.9,296 L171.9,362 L160,372 L156,372 Z" fill="#f3f3f3" stroke="#9a9a9a" stroke-width="0.4"/>
<path d="M158.5,320 L161.5,316.5 L161.5,366 L158.5,369 Z" fill="#8a8a8a"/>
<path d="M164,312 L164,360 M169,303 L169,352" stroke="#bbb" stroke-width="0.5" fill="none"/>
<path d="M159.3,328 v1.5 M159.3,332 v1.5 M159.3,336 v1.5" stroke="#e8e060" stroke-width="0.9"/>
<path d="M105.3,316 L117.5,296 L171.9,296 L156,316 Z" fill="url(#instT)" stroke="#aaa" stroke-width="0.4"/>
<rect x="105.3" y="316" width="50.7" height="66.5" fill="url(#instF)" stroke="#9c9c9c" stroke-width="0.5"/>
<rect x="105.6" y="339.4" width="50.1" height="18.4" fill="#a3a29d"/>
<path d="M113.8,342.2 C115.5,345.5 118,348 118,351 A4.2,4.2 0 1 1 109.6,351 C109.6,348 112.2,345.5 113.8,342.2 Z" fill="#d5f1f7" stroke="#8fd3e2" stroke-width="0.5"/>
<circle cx="113.4" cy="351.6" r="1.6" fill="#7cc8dc"/>
<text x="121.8" y="350.2" font-size="7.4" font-style="italic" fill="#fff" textLength="32.5" lengthAdjust="spacingAndGlyphs">AquaSOO</text>
<line x1="123" y1="354" x2="151.5" y2="354" stroke="#c9c9c4" stroke-width="0.7" stroke-dasharray="2.5,0.6"/>
<rect x="110" y="382.3" width="3.8" height="2.6" rx="1" fill="#333"/><rect x="148.6" y="382.3" width="3.8" height="2.6" rx="1" fill="#333"/>
<rect x="157.3" y="370.5" width="3" height="3.6" fill="#222"/>
</g>
<g fill="none"><path d="M160,372.2 L198,372.6 M160,374.6 L198,375.2" stroke="#6f8c8c" stroke-width="0.9"/><path d="M160,373.4 L198,373.9" stroke="#cfe3e3" stroke-width="0.9"/><path d="M211,371.6 C217,371.7 222,372 227,372.8 M211,374.2 C217,374.3 222,374.6 227,375.6" stroke="#5f7a7e" stroke-width="0.9"/><path d="M211,372.9 C217,373 222,373.3 227,374.2" stroke="#d5e6e6" stroke-width="1"/><path d="M225,373.6 C232,375 238,377 243,379.8 C248,382.5 252,385 256,387.5" stroke="#5f7378" stroke-width="4.2"/><path d="M225,373.6 C232,375 238,377 243,379.8 C248,382.5 252,385 256,387.5" stroke="#dfe9ea" stroke-width="3" stroke-dasharray="0.7,0.9"/></g>
<line x1="265" y1="382.6" x2="252.5" y2="380.6" stroke="#000" stroke-width="0.7" marker-end="url(#ah)"/>
<line x1="252.5" y1="390.8" x2="265.5" y2="392.4" stroke="#000" stroke-width="0.7" marker-end="url(#ah)"/>
<text x="135.6" y="282.6" font-size="8.85" font-weight="normal" text-anchor="middle" fill="#000" >High frequency</text>
<text x="135.6" y="293.2" font-size="8.85" text-anchor="middle"><tspan font-style="italic">in situ</tspan> monitoring</text>
<text x="505.9" y="288" font-size="12.6" font-weight="bold" text-anchor="middle" fill="#000" >Algal Bloom Management</text>
<text x="375" y="363.8" font-size="12.5" font-weight="bold" text-anchor="middle" fill="#000" >Algal Bloom</text>
<g stroke-linecap="round"><path d="M99.0,392.9 q-0.3,-5.3 -1.7,-8.8" stroke="#2fae3a" stroke-width="0.71" fill="none"/><path d="M142.9,394.6 q-0.4,-7.8 -2.2,-12.9" stroke="#b8e27a" stroke-width="1.02" fill="none"/><path d="M104.7,393.6 q-0.3,-4.0 -1.4,-6.7" stroke="#2fae3a" stroke-width="1.20" fill="none"/><path d="M178.9,399.2 q-0.2,-4.4 -1.0,-7.4" stroke="#49b849" stroke-width="1.22" fill="none"/><path d="M200.5,399.6 q0.3,-5.2 1.7,-8.6" stroke="#8fd455" stroke-width="1.10" fill="none"/><path d="M136.8,393.6 q-0.4,-5.6 -2.1,-9.3" stroke="#b8e27a" stroke-width="1.20" fill="none"/><path d="M67.0,394.6 q-0.2,-6.6 -0.9,-10.9" stroke="#b8e27a" stroke-width="0.82" fill="none"/><path d="M125.3,394.6 q-0.3,-5.5 -1.3,-9.2" stroke="#8fd455" stroke-width="1.19" fill="none"/><path d="M72.1,392.4 q-0.2,-6.2 -1.1,-10.4" stroke="#b8e27a" stroke-width="1.09" fill="none"/><path d="M164.1,393.3 q-0.4,-6.4 -2.2,-10.7" stroke="#5cc244" stroke-width="1.08" fill="none"/><path d="M127.8,393.7 q0.1,-5.4 0.4,-9.1" stroke="#49b849" stroke-width="1.04" fill="none"/><path d="M192.6,392.9 q-0.3,-3.9 -1.4,-6.4" stroke="#b8e27a" stroke-width="1.07" fill="none"/><path d="M99.2,395.0 q-0.0,-4.3 -0.2,-7.2" stroke="#2fae3a" stroke-width="0.91" fill="none"/><path d="M77.6,400.7 q0.2,-4.8 0.9,-8.0" stroke="#8fd455" stroke-width="0.71" fill="none"/><path d="M106.5,400.7 q-0.1,-6.9 -0.4,-11.4" stroke="#b8e27a" stroke-width="1.11" fill="none"/><path d="M76.9,397.6 q-0.2,-7.4 -1.0,-12.3" stroke="#8fd455" stroke-width="0.93" fill="none"/><path d="M200.7,395.0 q-0.5,-3.6 -2.3,-6.1" stroke="#5cc244" stroke-width="0.92" fill="none"/><path d="M178.6,401.0 q-0.1,-6.0 -0.3,-10.0" stroke="#5cc244" stroke-width="0.95" fill="none"/><path d="M95.1,392.5 q-0.3,-3.8 -1.7,-6.4" stroke="#49b849" stroke-width="1.28" fill="none"/><path d="M150.9,396.9 q-0.2,-6.0 -0.9,-10.1" stroke="#2fae3a" stroke-width="0.77" fill="none"/><path d="M140.1,399.0 q0.5,-5.3 2.4,-8.9" stroke="#3a9e3a" stroke-width="0.82" fill="none"/><path d="M127.4,396.4 q-0.1,-4.5 -0.3,-7.5" stroke="#49b849" stroke-width="1.23" fill="none"/><path d="M182.3,396.5 q-0.2,-3.7 -1.2,-6.2" stroke="#5cc244" stroke-width="1.02" fill="none"/><path d="M174.1,395.8 q-0.2,-4.7 -0.9,-7.8" stroke="#8fd455" stroke-width="1.04" fill="none"/><path d="M204.7,395.6 q0.2,-7.4 0.8,-12.3" stroke="#49b849" stroke-width="1.15" fill="none"/><path d="M135.2,392.8 q0.4,-4.5 1.9,-7.5" stroke="#5cc244" stroke-width="0.90" fill="none"/><path d="M158.0,399.2 q0.3,-6.3 1.6,-10.5" stroke="#b8e27a" stroke-width="0.83" fill="none"/><path d="M178.2,399.2 q-0.1,-5.0 -0.5,-8.4" stroke="#3a9e3a" stroke-width="0.74" fill="none"/><path d="M202.0,400.7 q-0.5,-6.4 -2.3,-10.7" stroke="#b8e27a" stroke-width="0.78" fill="none"/><path d="M201.6,398.0 q-0.3,-3.9 -1.7,-6.4" stroke="#49b849" stroke-width="0.98" fill="none"/><path d="M132.1,395.6 q0.3,-5.2 1.5,-8.7" stroke="#5cc244" stroke-width="1.25" fill="none"/><path d="M67.8,399.9 q0.3,-4.1 1.5,-6.8" stroke="#3a9e3a" stroke-width="1.23" fill="none"/><path d="M143.1,399.9 q0.2,-4.4 0.9,-7.4" stroke="#8fd455" stroke-width="1.19" fill="none"/><path d="M144.7,399.1 q-0.1,-7.4 -0.3,-12.4" stroke="#2fae3a" stroke-width="0.72" fill="none"/><path d="M149.2,396.4 q0.1,-7.2 0.5,-12.1" stroke="#5cc244" stroke-width="0.72" fill="none"/><path d="M77.2,399.9 q-0.2,-7.4 -1.0,-12.3" stroke="#8fd455" stroke-width="1.20" fill="none"/><path d="M77.9,396.9 q0.3,-5.2 1.4,-8.7" stroke="#8fd455" stroke-width="0.93" fill="none"/><path d="M172.2,399.7 q-0.4,-5.3 -2.1,-8.8" stroke="#b8e27a" stroke-width="1.18" fill="none"/><path d="M117.2,401.0 q0.2,-5.3 1.1,-8.9" stroke="#3a9e3a" stroke-width="0.74" fill="none"/><path d="M189.4,393.8 q0.3,-4.9 1.7,-8.1" stroke="#3a9e3a" stroke-width="0.77" fill="none"/><path d="M144.2,395.3 q0.2,-4.3 1.0,-7.1" stroke="#8fd455" stroke-width="1.00" fill="none"/><path d="M113.4,396.9 q0.2,-7.4 1.1,-12.3" stroke="#2fae3a" stroke-width="1.09" fill="none"/><path d="M82.9,393.0 q0.1,-6.9 0.5,-11.5" stroke="#b8e27a" stroke-width="0.75" fill="none"/><path d="M100.4,399.6 q0.3,-5.1 1.3,-8.5" stroke="#49b849" stroke-width="0.70" fill="none"/><path d="M73.4,400.2 q0.4,-5.9 2.0,-9.8" stroke="#b8e27a" stroke-width="0.88" fill="none"/><path d="M187.5,399.1 q-0.1,-6.2 -0.3,-10.3" stroke="#5cc244" stroke-width="0.85" fill="none"/><path d="M149.6,400.9 q-0.1,-5.0 -0.3,-8.4" stroke="#b8e27a" stroke-width="0.79" fill="none"/><path d="M179.3,393.6 q-0.1,-7.4 -0.6,-12.3" stroke="#b8e27a" stroke-width="1.18" fill="none"/><path d="M160.5,399.9 q0.1,-3.9 0.7,-6.5" stroke="#5cc244" stroke-width="0.90" fill="none"/><path d="M118.1,393.6 q0.1,-7.3 0.5,-12.2" stroke="#b8e27a" stroke-width="1.27" fill="none"/><path d="M182.2,399.2 q0.5,-7.0 2.3,-11.7" stroke="#5cc244" stroke-width="0.81" fill="none"/><path d="M204.2,397.9 q-0.4,-7.8 -2.1,-12.9" stroke="#2fae3a" stroke-width="0.80" fill="none"/><path d="M133.1,400.0 q0.3,-4.5 1.4,-7.6" stroke="#49b849" stroke-width="0.88" fill="none"/><path d="M195.9,395.7 q0.4,-6.1 2.0,-10.2" stroke="#49b849" stroke-width="0.83" fill="none"/><path d="M117.5,398.7 q0.0,-5.9 0.1,-9.8" stroke="#3a9e3a" stroke-width="1.24" fill="none"/><path d="M122.0,395.6 q-0.2,-7.0 -1.1,-11.7" stroke="#3a9e3a" stroke-width="1.05" fill="none"/><path d="M101.2,400.1 q0.1,-5.5 0.3,-9.2" stroke="#8fd455" stroke-width="0.94" fill="none"/><path d="M120.4,392.3 q-0.0,-5.7 -0.2,-9.6" stroke="#49b849" stroke-width="1.25" fill="none"/><path d="M150.5,394.8 q-0.2,-4.0 -1.2,-6.6" stroke="#5cc244" stroke-width="1.08" fill="none"/><path d="M132.8,397.4 q0.4,-3.9 2.1,-6.5" stroke="#2fae3a" stroke-width="0.88" fill="none"/><path d="M198.7,393.5 q0.2,-6.9 0.9,-11.5" stroke="#b8e27a" stroke-width="1.13" fill="none"/><path d="M141.4,392.2 q0.3,-4.6 1.3,-7.7" stroke="#5cc244" stroke-width="0.72" fill="none"/><path d="M110.3,393.1 q0.5,-3.9 2.5,-6.4" stroke="#8fd455" stroke-width="1.07" fill="none"/><path d="M154.4,393.6 q-0.1,-4.2 -0.4,-7.0" stroke="#5cc244" stroke-width="1.23" fill="none"/><path d="M166.7,397.0 q0.2,-6.5 1.1,-10.9" stroke="#b8e27a" stroke-width="0.79" fill="none"/><path d="M123.7,393.9 q0.0,-4.9 0.0,-8.1" stroke="#3a9e3a" stroke-width="0.80" fill="none"/><path d="M188.5,394.3 q0.2,-5.2 0.9,-8.7" stroke="#3a9e3a" stroke-width="0.90" fill="none"/><path d="M120.2,395.8 q0.4,-3.7 1.9,-6.2" stroke="#2fae3a" stroke-width="0.88" fill="none"/><path d="M176.5,392.8 q0.1,-4.1 0.5,-6.8" stroke="#2fae3a" stroke-width="0.84" fill="none"/><path d="M143.5,396.3 q-0.3,-6.6 -1.6,-11.0" stroke="#3a9e3a" stroke-width="1.30" fill="none"/><path d="M164.9,400.3 q-0.1,-7.5 -0.6,-12.6" stroke="#5cc244" stroke-width="1.20" fill="none"/><path d="M148.2,393.0 q0.4,-6.2 2.1,-10.3" stroke="#8fd455" stroke-width="1.26" fill="none"/><path d="M182.5,395.7 q0.3,-6.7 1.6,-11.2" stroke="#5cc244" stroke-width="0.85" fill="none"/><path d="M186.1,398.0 q0.4,-4.9 2.0,-8.2" stroke="#49b849" stroke-width="1.20" fill="none"/><path d="M179.0,392.7 q-0.2,-4.6 -0.9,-7.7" stroke="#2fae3a" stroke-width="1.10" fill="none"/><path d="M163.8,397.4 q0.5,-5.8 2.4,-9.7" stroke="#8fd455" stroke-width="1.26" fill="none"/><path d="M90.8,392.4 q0.3,-5.8 1.6,-9.6" stroke="#49b849" stroke-width="0.85" fill="none"/><path d="M94.1,392.6 q0.4,-6.9 2.0,-11.5" stroke="#49b849" stroke-width="0.89" fill="none"/><path d="M137.1,400.0 q0.3,-7.1 1.7,-11.8" stroke="#2fae3a" stroke-width="1.21" fill="none"/><path d="M153.3,397.6 q0.2,-3.7 1.2,-6.1" stroke="#2fae3a" stroke-width="0.71" fill="none"/><path d="M163.7,393.9 q0.2,-4.6 1.2,-7.7" stroke="#8fd455" stroke-width="1.19" fill="none"/><path d="M107.7,395.5 q-0.5,-6.1 -2.3,-10.2" stroke="#3a9e3a" stroke-width="1.00" fill="none"/><path d="M74.9,396.6 q0.1,-5.7 0.3,-9.6" stroke="#8fd455" stroke-width="1.17" fill="none"/><path d="M164.6,395.9 q-0.5,-4.3 -2.4,-7.2" stroke="#3a9e3a" stroke-width="1.26" fill="none"/><path d="M104.6,398.8 q0.1,-5.3 0.6,-8.8" stroke="#3a9e3a" stroke-width="0.89" fill="none"/><path d="M152.8,394.3 q-0.5,-5.7 -2.3,-9.6" stroke="#8fd455" stroke-width="1.07" fill="none"/><path d="M160.6,397.8 q-0.2,-6.2 -0.9,-10.3" stroke="#5cc244" stroke-width="1.07" fill="none"/><path d="M164.1,400.4 q-0.3,-4.7 -1.4,-7.8" stroke="#49b849" stroke-width="1.00" fill="none"/><path d="M82.0,395.1 q0.5,-5.5 2.5,-9.2" stroke="#5cc244" stroke-width="0.76" fill="none"/><path d="M138.7,392.9 q-0.2,-6.9 -0.9,-11.6" stroke="#b8e27a" stroke-width="1.05" fill="none"/><path d="M87.1,398.7 q0.5,-6.4 2.5,-10.6" stroke="#49b849" stroke-width="1.15" fill="none"/><path d="M171.8,399.2 q-0.2,-6.4 -1.2,-10.7" stroke="#b8e27a" stroke-width="0.89" fill="none"/><path d="M111.9,400.8 q-0.1,-6.1 -0.7,-10.2" stroke="#5cc244" stroke-width="0.80" fill="none"/><path d="M96.1,400.6 q0.2,-7.6 0.9,-12.7" stroke="#2fae3a" stroke-width="1.10" fill="none"/><path d="M102.7,400.3 q-0.0,-6.4 -0.0,-10.7" stroke="#5cc244" stroke-width="1.18" fill="none"/><path d="M120.9,397.4 q-0.2,-5.7 -0.9,-9.5" stroke="#3a9e3a" stroke-width="1.15" fill="none"/><path d="M183.4,398.8 q-0.3,-3.8 -1.7,-6.3" stroke="#5cc244" stroke-width="0.88" fill="none"/><path d="M116.9,399.8 q0.2,-7.5 0.9,-12.6" stroke="#3a9e3a" stroke-width="0.92" fill="none"/><path d="M165.1,400.5 q-0.2,-4.4 -0.8,-7.3" stroke="#b8e27a" stroke-width="0.83" fill="none"/><path d="M69.8,393.7 q0.2,-7.1 1.2,-11.8" stroke="#b8e27a" stroke-width="1.00" fill="none"/><path d="M71.8,394.8 q-0.1,-6.6 -0.5,-11.0" stroke="#5cc244" stroke-width="1.30" fill="none"/><path d="M152.4,395.2 q0.2,-3.6 1.0,-6.0" stroke="#3a9e3a" stroke-width="0.72" fill="none"/><path d="M175.7,398.6 q-0.4,-5.4 -1.9,-8.9" stroke="#8fd455" stroke-width="1.06" fill="none"/><path d="M73.6,392.7 q0.2,-4.3 0.9,-7.1" stroke="#2fae3a" stroke-width="0.81" fill="none"/><path d="M152.1,397.4 q0.2,-6.1 1.1,-10.2" stroke="#2fae3a" stroke-width="0.93" fill="none"/><path d="M98.4,397.3 q-0.4,-6.2 -1.8,-10.4" stroke="#b8e27a" stroke-width="0.87" fill="none"/><path d="M126.9,394.8 q-0.3,-6.3 -1.6,-10.4" stroke="#8fd455" stroke-width="1.26" fill="none"/><path d="M183.1,397.9 q-0.2,-6.0 -0.8,-10.0" stroke="#b8e27a" stroke-width="0.90" fill="none"/><path d="M141.3,396.9 q0.4,-5.1 1.8,-8.6" stroke="#5cc244" stroke-width="1.00" fill="none"/><path d="M182.0,392.7 q-0.3,-6.2 -1.5,-10.4" stroke="#5cc244" stroke-width="0.79" fill="none"/><path d="M165.6,397.4 q0.3,-3.8 1.6,-6.4" stroke="#2fae3a" stroke-width="1.13" fill="none"/><path d="M72.6,399.5 q-0.3,-4.2 -1.6,-7.0" stroke="#b8e27a" stroke-width="0.73" fill="none"/><path d="M132.6,399.8 q-0.0,-4.5 -0.1,-7.5" stroke="#8fd455" stroke-width="1.02" fill="none"/><path d="M171.5,392.6 q0.4,-4.2 2.1,-7.0" stroke="#2fae3a" stroke-width="0.70" fill="none"/><path d="M140.1,399.7 q-0.4,-7.1 -2.1,-11.9" stroke="#3a9e3a" stroke-width="1.11" fill="none"/><path d="M178.1,399.1 q-0.3,-3.7 -1.5,-6.2" stroke="#49b849" stroke-width="1.27" fill="none"/><path d="M180.6,393.8 q0.4,-7.5 2.1,-12.4" stroke="#2fae3a" stroke-width="0.71" fill="none"/><path d="M66.5,394.6 q-0.1,-5.8 -0.4,-9.6" stroke="#2fae3a" stroke-width="1.01" fill="none"/><path d="M113.4,393.5 q0.2,-4.4 1.0,-7.4" stroke="#2fae3a" stroke-width="1.11" fill="none"/><path d="M75.0,395.9 q-0.4,-4.2 -2.0,-6.9" stroke="#b8e27a" stroke-width="0.89" fill="none"/><path d="M113.5,394.5 q-0.4,-6.1 -1.9,-10.1" stroke="#49b849" stroke-width="1.07" fill="none"/><path d="M150.3,392.0 q-0.2,-3.8 -1.1,-6.3" stroke="#49b849" stroke-width="0.95" fill="none"/><path d="M108.6,395.2 q0.0,-6.8 0.1,-11.3" stroke="#b8e27a" stroke-width="0.97" fill="none"/><path d="M204.0,396.1 q0.5,-7.7 2.5,-12.9" stroke="#b8e27a" stroke-width="1.03" fill="none"/><path d="M147.3,397.1 q0.5,-4.4 2.3,-7.4" stroke="#49b849" stroke-width="1.04" fill="none"/><path d="M149.8,398.3 q-0.3,-7.6 -1.7,-12.6" stroke="#5cc244" stroke-width="0.89" fill="none"/><path d="M108.0,394.8 q-0.0,-4.5 -0.1,-7.5" stroke="#8fd455" stroke-width="0.86" fill="none"/><path d="M186.5,393.5 q-0.3,-4.0 -1.3,-6.7" stroke="#8fd455" stroke-width="1.08" fill="none"/><path d="M93.2,396.0 q-0.2,-7.7 -0.9,-12.8" stroke="#b8e27a" stroke-width="0.70" fill="none"/><path d="M187.4,392.0 q0.1,-6.4 0.3,-10.6" stroke="#5cc244" stroke-width="1.25" fill="none"/><path d="M118.2,397.8 q0.1,-5.2 0.7,-8.7" stroke="#49b849" stroke-width="0.96" fill="none"/><path d="M137.1,395.1 q-0.3,-3.8 -1.6,-6.3" stroke="#3a9e3a" stroke-width="0.70" fill="none"/><path d="M205.1,395.9 q0.1,-6.7 0.3,-11.2" stroke="#8fd455" stroke-width="0.91" fill="none"/><path d="M114.9,398.1 q-0.1,-3.6 -0.7,-6.0" stroke="#3a9e3a" stroke-width="1.04" fill="none"/><path d="M134.6,400.4 q0.2,-5.4 1.2,-9.0" stroke="#3a9e3a" stroke-width="0.79" fill="none"/><path d="M128.8,396.7 q-0.4,-6.8 -2.0,-11.3" stroke="#2fae3a" stroke-width="0.78" fill="none"/><path d="M129.9,398.6 q0.4,-6.8 1.9,-11.3" stroke="#8fd455" stroke-width="0.94" fill="none"/><path d="M109.3,399.1 q0.2,-7.4 1.1,-12.3" stroke="#8fd455" stroke-width="1.23" fill="none"/><path d="M203.2,399.5 q-0.1,-6.6 -0.3,-11.0" stroke="#49b849" stroke-width="0.92" fill="none"/><path d="M97.8,399.7 q-0.1,-4.3 -0.4,-7.1" stroke="#2fae3a" stroke-width="0.90" fill="none"/><path d="M71.0,399.9 q0.2,-6.2 0.9,-10.4" stroke="#5cc244" stroke-width="1.07" fill="none"/><path d="M174.6,394.1 q0.4,-5.8 2.1,-9.6" stroke="#3a9e3a" stroke-width="0.95" fill="none"/><path d="M184.2,393.1 q-0.5,-7.2 -2.4,-12.1" stroke="#49b849" stroke-width="0.96" fill="none"/><path d="M116.1,399.9 q-0.3,-6.7 -1.5,-11.2" stroke="#8fd455" stroke-width="0.92" fill="none"/><path d="M103.1,398.5 q0.2,-6.0 0.8,-9.9" stroke="#3a9e3a" stroke-width="1.16" fill="none"/><path d="M176.8,400.7 q0.2,-7.5 1.2,-12.5" stroke="#8fd455" stroke-width="1.07" fill="none"/><path d="M180.7,400.5 q-0.5,-7.7 -2.3,-12.8" stroke="#49b849" stroke-width="0.96" fill="none"/><path d="M148.9,398.2 q0.0,-7.3 0.2,-12.2" stroke="#2fae3a" stroke-width="0.98" fill="none"/><path d="M162.1,397.1 q-0.5,-4.2 -2.5,-6.9" stroke="#5cc244" stroke-width="1.16" fill="none"/><path d="M87.7,399.4 q0.1,-7.1 0.4,-11.9" stroke="#8fd455" stroke-width="1.18" fill="none"/><path d="M159.5,392.3 q0.2,-4.1 1.2,-6.8" stroke="#5cc244" stroke-width="0.83" fill="none"/><path d="M177.7,392.6 q-0.3,-6.2 -1.6,-10.3" stroke="#2fae3a" stroke-width="1.21" fill="none"/><path d="M137.9,393.7 q0.0,-7.6 0.0,-12.7" stroke="#8fd455" stroke-width="0.91" fill="none"/><path d="M146.4,397.2 q0.4,-6.6 2.1,-11.0" stroke="#8fd455" stroke-width="1.10" fill="none"/><path d="M163.9,397.5 q-0.4,-4.7 -2.2,-7.8" stroke="#8fd455" stroke-width="1.24" fill="none"/><path d="M73.9,399.0 q0.2,-3.9 1.1,-6.5" stroke="#2fae3a" stroke-width="0.99" fill="none"/><path d="M120.2,392.6 q0.1,-7.2 0.7,-12.0" stroke="#2fae3a" stroke-width="1.21" fill="none"/><path d="M167.6,399.4 q-0.1,-6.6 -0.4,-10.9" stroke="#3a9e3a" stroke-width="1.25" fill="none"/><path d="M81.1,393.3 q-0.0,-4.3 -0.2,-7.2" stroke="#b8e27a" stroke-width="0.98" fill="none"/><path d="M127.8,400.5 q0.4,-5.4 1.8,-9.0" stroke="#8fd455" stroke-width="0.86" fill="none"/><path d="M67.0,395.6 q0.4,-6.0 1.9,-9.9" stroke="#8fd455" stroke-width="1.17" fill="none"/><path d="M164.7,393.1 q-0.3,-5.8 -1.6,-9.6" stroke="#5cc244" stroke-width="1.12" fill="none"/><path d="M120.7,396.9 q0.1,-6.3 0.6,-10.6" stroke="#5cc244" stroke-width="1.04" fill="none"/><path d="M76.1,398.7 q-0.5,-7.0 -2.3,-11.7" stroke="#b8e27a" stroke-width="0.98" fill="none"/><path d="M79.2,396.8 q0.3,-4.8 1.6,-8.0" stroke="#5cc244" stroke-width="0.77" fill="none"/><path d="M101.8,395.6 q-0.2,-5.8 -1.1,-9.7" stroke="#2fae3a" stroke-width="0.94" fill="none"/><path d="M149.8,393.5 q0.4,-5.7 1.9,-9.4" stroke="#8fd455" stroke-width="1.27" fill="none"/><path d="M170.7,399.6 q-0.3,-5.7 -1.3,-9.4" stroke="#5cc244" stroke-width="0.90" fill="none"/><path d="M70.5,393.9 q-0.0,-6.7 -0.2,-11.1" stroke="#b8e27a" stroke-width="0.89" fill="none"/><path d="M151.3,399.3 q-0.1,-6.0 -0.4,-10.0" stroke="#49b849" stroke-width="0.97" fill="none"/><path d="M111.9,400.2 q0.3,-6.5 1.3,-10.8" stroke="#3a9e3a" stroke-width="0.99" fill="none"/><path d="M102.4,393.0 q0.2,-6.4 1.2,-10.6" stroke="#b8e27a" stroke-width="1.00" fill="none"/><path d="M134.4,400.7 q-0.1,-4.0 -0.6,-6.6" stroke="#b8e27a" stroke-width="0.76" fill="none"/><path d="M108.3,392.1 q0.4,-5.2 1.9,-8.7" stroke="#49b849" stroke-width="0.93" fill="none"/><path d="M91.1,394.9 q-0.1,-6.2 -0.5,-10.4" stroke="#5cc244" stroke-width="0.81" fill="none"/><path d="M166.1,396.1 q-0.2,-5.2 -0.8,-8.7" stroke="#5cc244" stroke-width="1.12" fill="none"/><path d="M71.1,398.1 q0.4,-3.8 1.9,-6.4" stroke="#5cc244" stroke-width="1.15" fill="none"/><path d="M183.2,396.8 q0.3,-5.0 1.3,-8.3" stroke="#2fae3a" stroke-width="0.78" fill="none"/><path d="M73.2,398.6 q-0.1,-5.4 -0.6,-8.9" stroke="#8fd455" stroke-width="0.96" fill="none"/><path d="M121.7,392.2 q-0.4,-6.7 -1.8,-11.2" stroke="#3a9e3a" stroke-width="1.29" fill="none"/><path d="M173.3,398.5 q-0.1,-7.5 -0.3,-12.5" stroke="#8fd455" stroke-width="0.92" fill="none"/><path d="M144.9,399.2 q-0.2,-4.4 -1.0,-7.3" stroke="#b8e27a" stroke-width="1.10" fill="none"/><path d="M87.4,396.4 q0.1,-6.6 0.3,-11.0" stroke="#49b849" stroke-width="1.13" fill="none"/><path d="M153.5,393.8 q-0.1,-6.8 -0.3,-11.4" stroke="#8fd455" stroke-width="1.00" fill="none"/><path d="M203.4,400.3 q-0.4,-3.7 -1.8,-6.2" stroke="#3a9e3a" stroke-width="1.28" fill="none"/><path d="M182.0,394.5 q0.4,-5.5 2.2,-9.2" stroke="#2fae3a" stroke-width="1.08" fill="none"/><path d="M102.3,398.6 q0.4,-6.6 2.1,-11.0" stroke="#5cc244" stroke-width="1.23" fill="none"/><path d="M188.4,394.3 q-0.2,-4.7 -0.8,-7.8" stroke="#b8e27a" stroke-width="1.07" fill="none"/><path d="M125.8,394.4 q0.1,-4.0 0.4,-6.7" stroke="#2fae3a" stroke-width="1.00" fill="none"/><path d="M150.1,395.7 q0.5,-6.7 2.4,-11.1" stroke="#3a9e3a" stroke-width="1.17" fill="none"/></g>
<circle cx="311.8" cy="319.3" r="4.5" fill="url(#teal)"/>
<circle cx="320" cy="314.8" r="4.5" fill="url(#teal)"/>
<circle cx="342.5" cy="382.5" r="5.1" fill="url(#teal)"/>
<circle cx="353.4" cy="378.6" r="5.1" fill="url(#teal)"/>
<circle cx="360.4" cy="385.4" r="5.1" fill="url(#teal)"/>
<circle cx="350.5" cy="389.3" r="5.1" fill="url(#teal)"/>
<circle cx="429" cy="320" r="5" fill="url(#teal)"/>
<circle cx="425.5" cy="330" r="5" fill="url(#teal)"/>
<circle cx="435.5" cy="328.5" r="5" fill="url(#teal)"/>
<circle cx="484.3" cy="334.5" r="3.2" fill="url(#teal)"/>
<circle cx="489.5" cy="338" r="3.2" fill="url(#teal)"/>
<circle cx="568" cy="375" r="3" fill="url(#teal)"/>
<circle cx="636.5" cy="314.5" r="2" fill="url(#teal)"/>
<circle cx="656" cy="361.5" r="2" fill="url(#teal)"/>
<circle cx="617.5" cy="377.5" r="2" fill="url(#teal)"/>
<circle cx="556" cy="419.5" r="1.9" fill="url(#teal)"/>
<circle cx="520" cy="423.5" r="1.9" fill="url(#teal)"/>
<circle cx="457.6" cy="422.3" r="4.1" fill="url(#teal)"/>
<circle cx="464.8" cy="423" r="4.1" fill="url(#teal)"/>
<circle cx="461" cy="428.6" r="4.1" fill="url(#teal)"/>
<path d="M306.9,363.9 L305.1,368.4 L300.8,370.1 L296.7,369.1 L293.6,366.1 L293.8,361.7 L296.2,357.8 L300.8,357.9 L304.6,359.8Z" fill="#9ab58f" stroke="#abc4a8" stroke-width="1.8" stroke-linejoin="round"/>
<circle cx="299.7" cy="363.9" r="3.2" fill="#8fab83" opacity="0.9"/>
<path d="M431.3,363.5 L431.0,368.1 L426.7,370.4 L422.5,368.7 L419.4,365.7 L419.5,361.3 L422.1,357.6 L426.7,356.5 L429.9,359.8Z" fill="#9ab58f" stroke="#abc4a8" stroke-width="1.8" stroke-linejoin="round"/>
<circle cx="425.5" cy="363.5" r="3.2" fill="#8fab83" opacity="0.9"/>
<path d="M419.5,381.0 L417.6,386.1 L412.6,387.0 L408.4,386.3 L404.3,383.6 L404.5,378.4 L407.8,374.6 L412.6,374.5 L417.0,376.4Z" fill="#9ab58f" stroke="#abc4a8" stroke-width="1.8" stroke-linejoin="round"/>
<circle cx="411.5" cy="381" r="3.5" fill="#8fab83" opacity="0.9"/>
<path d="M512.6,386.5 L511.9,389.8 L508.8,391.2 L505.4,391.0 L503.1,388.3 L503.9,385.0 L505.9,382.8 L509.0,381.1 L511.6,383.5Z" fill="#9ab58f" stroke="#abc4a8" stroke-width="1.8" stroke-linejoin="round"/>
<circle cx="508" cy="386.5" r="2.5" fill="#8fab83" opacity="0.9"/>
<path d="M380.5,424.0 L378.9,427.7 L375.6,430.2 L371.6,429.0 L369.2,425.9 L368.6,421.8 L370.8,417.7 L375.7,417.0 L379.9,419.5Z" fill="#9ab58f" stroke="#abc4a8" stroke-width="1.8" stroke-linejoin="round"/>
<circle cx="374.5" cy="424" r="3.2" fill="#8fab83" opacity="0.9"/>
<circle cx="372.0" cy="339.8" r="4.0" fill="#31b131"/><circle cx="367.4" cy="340.8" r="4.0" fill="#31b131"/><circle cx="364.3" cy="337.3" r="4.0" fill="#31b131"/><circle cx="365.8" cy="332.8" r="4.0" fill="#31b131"/><circle cx="370.4" cy="331.8" r="4.0" fill="#31b131"/><circle cx="373.5" cy="335.3" r="4.0" fill="#31b131"/><circle cx="368.9" cy="336.3" r="3.6" fill="#31b131"/><circle cx="372.0" cy="339.8" r="2.2" fill="none" stroke="#1f8c1f" stroke-width="1.01"/><circle cx="367.4" cy="340.8" r="2.2" fill="none" stroke="#1f8c1f" stroke-width="1.01"/><circle cx="364.3" cy="337.3" r="2.2" fill="none" stroke="#1f8c1f" stroke-width="1.01"/><circle cx="365.8" cy="332.8" r="2.2" fill="none" stroke="#1f8c1f" stroke-width="1.01"/><circle cx="370.4" cy="331.8" r="2.2" fill="none" stroke="#1f8c1f" stroke-width="1.01"/><circle cx="373.5" cy="335.3" r="2.2" fill="none" stroke="#1f8c1f" stroke-width="1.01"/><circle cx="368.9" cy="336.3" r="1.8" fill="none" stroke="#1f8c1f" stroke-width="0.6"/>
<circle cx="307.4" cy="410.8" r="3.0" fill="#31b131"/><circle cx="306.0" cy="414.7" r="3.0" fill="#31b131"/><circle cx="301.8" cy="414.6" r="3.0" fill="#31b131"/><circle cx="300.7" cy="410.6" r="3.0" fill="#31b131"/><circle cx="304.1" cy="408.3" r="3.0" fill="#31b131"/><circle cx="304" cy="411.8" r="2.7" fill="#31b131"/><circle cx="307.4" cy="410.8" r="1.6" fill="none" stroke="#1f8c1f" stroke-width="0.75"/><circle cx="306.0" cy="414.7" r="1.6" fill="none" stroke="#1f8c1f" stroke-width="0.75"/><circle cx="301.8" cy="414.6" r="1.6" fill="none" stroke="#1f8c1f" stroke-width="0.75"/><circle cx="300.7" cy="410.6" r="1.6" fill="none" stroke="#1f8c1f" stroke-width="0.75"/><circle cx="304.1" cy="408.3" r="1.6" fill="none" stroke="#1f8c1f" stroke-width="0.75"/><circle cx="304" cy="411.8" r="1.3" fill="none" stroke="#1f8c1f" stroke-width="0.6"/>
<circle cx="234.8" cy="416.6" r="2.8" fill="#2fae2f"/><circle cx="234.4" cy="416.90000000000003" r="1.2" fill="#239623"/>
<circle cx="240.4" cy="419" r="2.8" fill="#2fae2f"/><circle cx="240.0" cy="419.3" r="1.2" fill="#239623"/>
<circle cx="518.4" cy="314.5" r="2.4" fill="#31b131"/><circle cx="521.5" cy="313.7" r="2.4" fill="#31b131"/><circle cx="520.7" cy="316.8" r="2.4" fill="#31b131"/><circle cx="518.4" cy="314.5" r="1.3" fill="none" stroke="#1f8c1f" stroke-width="0.60"/><circle cx="521.5" cy="313.7" r="1.3" fill="none" stroke="#1f8c1f" stroke-width="0.60"/><circle cx="520.7" cy="316.8" r="1.3" fill="none" stroke="#1f8c1f" stroke-width="0.60"/>
<circle cx="566.8" cy="322.5" r="2.2" fill="#31b131"/><circle cx="563.7" cy="322.3" r="2.2" fill="#31b131"/><circle cx="565.4" cy="319.7" r="2.2" fill="#31b131"/><circle cx="566.8" cy="322.5" r="1.2" fill="none" stroke="#1f8c1f" stroke-width="0.56"/><circle cx="563.7" cy="322.3" r="1.2" fill="none" stroke="#1f8c1f" stroke-width="0.56"/><circle cx="565.4" cy="319.7" r="1.2" fill="none" stroke="#1f8c1f" stroke-width="0.56"/>
<circle cx="531.5" cy="353.4" r="2.5" fill="#31b131"/><circle cx="534.9" cy="353.2" r="2.5" fill="#31b131"/><circle cx="533.4" cy="356.3" r="2.5" fill="#31b131"/><circle cx="531.5" cy="353.4" r="1.4" fill="none" stroke="#1f8c1f" stroke-width="0.63"/><circle cx="534.9" cy="353.2" r="1.4" fill="none" stroke="#1f8c1f" stroke-width="0.63"/><circle cx="533.4" cy="356.3" r="1.4" fill="none" stroke="#1f8c1f" stroke-width="0.63"/>
<circle cx="601.8" cy="349.3" r="2.7" fill="#2fae2f"/><circle cx="601.4" cy="349.6" r="1.2" fill="#239623"/>
<circle cx="606.8" cy="351" r="2.5" fill="#2fae2f"/><circle cx="606.4" cy="351.3" r="1.1" fill="#239623"/>
<circle cx="465.5" cy="378.9" r="3.4" fill="#31b131"/><circle cx="468.2" cy="382.5" r="3.4" fill="#31b131"/><circle cx="463.7" cy="383.1" r="3.4" fill="#31b131"/><circle cx="465.5" cy="378.9" r="1.8" fill="none" stroke="#1f8c1f" stroke-width="0.84"/><circle cx="468.2" cy="382.5" r="1.8" fill="none" stroke="#1f8c1f" stroke-width="0.84"/><circle cx="463.7" cy="383.1" r="1.8" fill="none" stroke="#1f8c1f" stroke-width="0.84"/>
<circle cx="586" cy="411.5" r="2.5" fill="#2fae2f"/><circle cx="585.6" cy="411.8" r="1.1" fill="#239623"/>
<circle cx="544" cy="452" r="2.5" fill="#2fae2f"/><circle cx="543.6" cy="452.3" r="1.1" fill="#239623"/>
<defs><g id="plant"><path d="M6.3,41.0 L6.2,39.6 L6.1,38.2 L6.1,36.9 L5.9,35.5 L5.7,34.1 L5.3,32.8 L4.7,31.4 L4.0,30.0 L3.2,28.6 L2.4,27.2 L1.7,25.9 L1.1,24.5 L0.7,23.1 L0.5,21.8 L0.6,20.4 L0.8,19.0 L1.2,17.6 L1.8,16.2 L2.3,14.9 L2.8,13.5 L3.2,12.1 L3.8,10.8 L4.4,9.4 L4.7,8.0 L4.7,8.0 L5.0,9.4 L5.6,10.8 L6.1,12.1 L6.3,13.5 L6.3,14.9 L6.3,16.2 L6.2,17.6 L6.1,19.0 L6.2,20.4 L6.3,21.8 L6.7,23.1 L7.2,24.5 L7.9,25.9 L8.6,27.2 L9.4,28.6 L10.0,30.0 L10.6,31.4 L10.9,32.8 L11.1,34.1 L11.0,35.5 L10.7,36.9 L10.3,38.2 L9.9,39.6 L9.4,41.0Z" fill="#7ab92c" stroke="#3f8f1e" stroke-width="0.6" stroke-linejoin="round"/><path d="M8.0,39.6 L8.2,38.2 L8.4,36.9 L8.5,35.5 L8.4,34.1 L8.1,32.8 L7.6,31.4 L7.0,30.0 L6.3,28.6 L5.5,27.2 L4.8,25.9 L4.2,24.5 L3.7,23.1 L3.4,21.8 L3.4,20.4 L3.5,19.0 L3.7,17.6 L4.0,16.2 L4.3,14.9 L4.6,13.5 L4.7,12.1 L4.7,10.8" fill="none" stroke="#4a9a22" stroke-width="0.5"/><path d="M15.2,42.0 L14.8,40.2 L14.2,38.5 L13.5,36.8 L12.8,35.0 L12.2,33.2 L11.7,31.5 L11.4,29.8 L11.5,28.0 L11.8,26.2 L12.5,24.5 L13.5,22.8 L14.5,21.0 L15.6,19.2 L16.7,17.5 L17.5,15.8 L18.1,14.0 L18.5,12.2 L18.7,10.5 L18.7,8.8 L18.7,7.0 L18.7,5.2 L19.1,3.5 L19.7,1.8 L19.9,0.0 L19.9,0.0 L20.4,1.8 L21.3,3.5 L22.2,5.2 L22.9,7.0 L23.6,8.8 L24.1,10.5 L24.4,12.2 L24.5,14.0 L24.2,15.8 L23.6,17.5 L22.8,19.2 L21.8,21.0 L20.8,22.8 L19.9,24.5 L19.2,26.2 L18.7,28.0 L18.4,29.8 L18.4,31.5 L18.6,33.2 L18.8,35.0 L19.1,36.8 L19.2,38.5 L19.2,40.2 L18.9,42.0Z" fill="#80be2e" stroke="#3f8f1e" stroke-width="0.6" stroke-linejoin="round"/><path d="M17.0,40.2 L16.7,38.5 L16.3,36.8 L15.8,35.0 L15.4,33.2 L15.0,31.5 L14.9,29.8 L15.1,28.0 L15.5,26.2 L16.2,24.5 L17.2,22.8 L18.2,21.0 L19.2,19.2 L20.1,17.5 L20.9,15.8 L21.3,14.0 L21.5,12.2 L21.4,10.5 L21.1,8.8 L20.8,7.0 L20.4,5.2 L20.2,3.5" fill="none" stroke="#4a9a22" stroke-width="0.5"/><path d="M8.9,42.0 L9.0,40.3 L9.1,38.7 L9.3,37.0 L9.4,35.3 L9.4,33.7 L9.2,32.0 L8.7,30.3 L8.0,28.7 L7.2,27.0 L6.4,25.3 L5.6,23.7 L5.0,22.0 L4.7,20.3 L4.7,18.7 L5.0,17.0 L5.5,15.3 L6.2,13.7 L7.1,12.0 L7.9,10.3 L8.6,8.7 L9.2,7.0 L9.9,5.3 L10.8,3.7 L11.2,2.0 L11.2,2.0 L11.5,3.7 L12.0,5.3 L12.5,7.0 L12.6,8.7 L12.4,10.3 L12.2,12.0 L11.8,13.7 L11.5,15.3 L11.3,17.0 L11.2,18.7 L11.5,20.3 L12.0,22.0 L12.6,23.7 L13.4,25.3 L14.2,27.0 L14.9,28.7 L15.3,30.3 L15.6,32.0 L15.5,33.7 L15.1,35.3 L14.6,37.0 L13.9,38.7 L13.1,40.3 L12.4,42.0Z" fill="#86c232" stroke="#3f8f1e" stroke-width="0.6" stroke-linejoin="round"/><path d="M11.1,40.3 L11.5,38.7 L11.9,37.0 L12.3,35.3 L12.4,33.7 L12.4,32.0 L12.0,30.3 L11.5,28.7 L10.7,27.0 L9.9,25.3 L9.1,23.7 L8.5,22.0 L8.1,20.3 L8.0,18.7 L8.1,17.0 L8.5,15.3 L9.0,13.7 L9.6,12.0 L10.2,10.3 L10.6,8.7 L10.9,7.0 L11.0,5.3" fill="none" stroke="#4a9a22" stroke-width="0.5"/></g></defs>
<use href="#plant" x="300" y="439.3"/>
<use href="#plant" x="331" y="448.2"/>
<use href="#plant" x="362.6" y="454.5"/>
<use href="#plant" x="398" y="455.8"/>
<g id="fish" stroke="#9a9a9a" stroke-width="0.5" stroke-linejoin="round">
<path d="M470.5,446.8 L472.3,442.4 L474.5,445 L477,444.3 L479,446 L482,445.8 L484,447.6 L486.5,448 L489.2,450.8 L486,451.5 L472,448.5 Z" fill="#e6e6e6"/>
<path d="M493.5,455.3 L507.8,445.1 C505.5,450 503.5,454.5 502,458.6 C504,462 506,465.5 508.4,468.9 L493.5,461.2 Z" fill="#dedede"/>
<path d="M454,458 C458,452.5 464,448 471,446.6 C478,446.3 485,449 489.5,452 C491.5,453.4 493,454.6 494.6,455.3 L494.6,461.2 C492,462.3 489,463.8 486,465.2 C483,466.8 479.5,468.2 476,468.6 C467,468.8 459,464.5 454,458 Z" fill="#d3d3d3"/>
<path d="M473.5,464.3 L478,462.2 L481.8,465.8 L478.5,470.4 L475.2,469 L476.2,466.6 Z" fill="#e4e4e4"/>
<path d="M467.5,449.3 C470,453 470.2,462 468.6,466.8 M473,455.4 L479.5,455.4 L484,457.6 L493.5,458.2 M457,461.6 L463,462.4 M496.5,456 L505,448.5 M497,458.4 L502,458.6 M496.5,460.6 L505.5,466.5" fill="none" stroke="#777" stroke-width="0.45"/>
<circle cx="463" cy="455.3" r="1.1" fill="#333" stroke="none"/>
</g>
</svg>
</body></html>
